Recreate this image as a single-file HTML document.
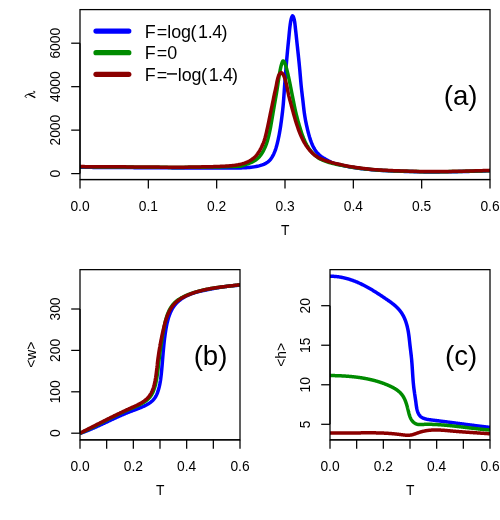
<!DOCTYPE html>
<html lang="en"><head><meta charset="utf-8"><title>plot</title>
<style>html,body{margin:0;padding:0;background:#fff;}svg{display:block;will-change:transform;}</style></head>
<body>
<svg width="500" height="520" viewBox="0 0 500 520" font-family="Liberation Sans, sans-serif" fill="#000">
<rect width="500" height="520" fill="#fff"/>
<defs><clipPath id="ca"><rect x="80" y="9.5" width="410" height="170"/></clipPath><clipPath id="cb"><rect x="80" y="269.5" width="160" height="170"/></clipPath><clipPath id="cc"><rect x="330" y="269.5" width="160" height="170"/></clipPath></defs>
<g clip-path="url(#ca)">
<path d="M80.00,167.30 L81.64,167.31 L83.29,167.32 L84.93,167.33 L86.57,167.34 L88.22,167.35 L89.86,167.36 L91.51,167.37 L93.15,167.38 L94.79,167.39 L96.44,167.40 L98.08,167.41 L99.72,167.42 L101.37,167.43 L103.01,167.44 L104.66,167.45 L106.30,167.46 L107.94,167.47 L109.59,167.48 L111.23,167.49 L112.87,167.50 L114.52,167.51 L116.16,167.52 L117.81,167.53 L119.45,167.54 L121.09,167.55 L122.74,167.56 L124.38,167.57 L126.02,167.58 L127.67,167.59 L129.31,167.60 L130.95,167.61 L132.60,167.62 L134.24,167.63 L135.89,167.64 L137.53,167.65 L139.17,167.66 L140.82,167.67 L142.46,167.68 L144.10,167.70 L145.75,167.71 L147.39,167.72 L149.04,167.73 L150.68,167.74 L152.32,167.75 L153.97,167.77 L155.61,167.78 L157.25,167.79 L158.90,167.80 L160.54,167.81 L162.19,167.82 L163.83,167.83 L165.47,167.84 L167.12,167.85 L168.76,167.86 L170.40,167.87 L172.05,167.88 L173.69,167.88 L175.34,167.89 L176.98,167.90 L178.62,167.90 L180.27,167.91 L181.91,167.91 L183.55,167.92 L185.20,167.92 L186.84,167.93 L188.48,167.94 L190.13,167.94 L191.77,167.95 L193.42,167.95 L195.06,167.96 L196.70,167.96 L198.35,167.97 L199.99,167.97 L201.63,167.97 L203.28,167.98 L204.92,167.98 L206.57,167.99 L208.21,167.99 L209.85,167.99 L211.50,167.99 L213.14,168.00 L214.78,168.00 L216.43,168.00 L218.07,168.00 L219.72,168.00 L221.36,168.00 L223.00,168.00 L224.65,167.99 L226.29,167.99 L227.94,167.98 L229.58,167.98 L231.22,167.97 L232.87,167.96 L234.51,167.95 L236.16,167.93 L237.80,167.92 L239.44,167.91 L241.08,167.88 L242.73,167.83 L244.37,167.76 L246.02,167.66 L247.66,167.54 L249.30,167.40 L250.94,167.25 L252.56,167.09 L254.19,166.87 L255.81,166.58 L257.42,166.22 L259.02,165.83 L260.61,165.40 L262.20,164.89 L263.75,164.31 L265.21,163.65 L266.64,162.82 L268.02,161.84 L269.28,160.75 L270.35,159.59 L271.32,158.31 L272.22,156.91 L273.04,155.43 L273.78,153.92 L274.43,152.42 L275.02,150.91 L275.57,149.36 L276.07,147.79 L276.53,146.20 L276.97,144.60 L277.38,143.00 L277.76,141.41 L278.13,139.81 L278.47,138.20 L278.80,136.59 L279.12,134.97 L279.42,133.35 L279.70,131.73 L279.98,130.11 L280.25,128.49 L280.50,126.87 L280.75,125.24 L280.98,123.62 L281.21,121.99 L281.43,120.36 L281.64,118.73 L281.85,117.10 L282.05,115.47 L282.25,113.83 L282.45,112.20 L282.63,110.57 L282.81,108.93 L282.98,107.30 L283.14,105.66 L283.29,104.03 L283.42,102.39 L283.55,100.75 L283.68,99.11 L283.80,97.47 L283.91,95.83 L284.02,94.19 L284.14,92.55 L284.25,90.91 L284.36,89.27 L284.48,87.63 L284.60,85.99 L284.72,84.35 L284.85,82.72 L284.97,81.08 L285.10,79.44 L285.23,77.80 L285.35,76.16 L285.48,74.52 L285.61,72.88 L285.74,71.24 L285.87,69.60 L286.00,67.97 L286.14,66.33 L286.28,64.69 L286.42,63.05 L286.56,61.42 L286.70,59.78 L286.85,58.14 L287.00,56.50 L287.15,54.87 L287.30,53.23 L287.45,51.59 L287.60,49.96 L287.76,48.32 L287.92,46.68 L288.09,45.05 L288.25,43.41 L288.42,41.78 L288.58,40.14 L288.75,38.51 L288.91,36.87 L289.06,35.23 L289.21,33.60 L289.37,31.96 L289.53,30.32 L289.70,28.69 L289.89,27.06 L290.10,25.42 L290.31,23.78 L290.56,22.14 L290.85,20.53 L291.21,18.95 L291.79,17.03 L292.50,15.73 L293.20,16.42 L293.89,18.30 L294.32,20.04 L294.61,21.63 L294.85,23.25 L295.05,24.89 L295.23,26.54 L295.40,28.20 L295.58,29.84 L295.77,31.47 L295.96,33.10 L296.13,34.74 L296.30,36.37 L296.47,38.01 L296.64,39.64 L296.81,41.28 L296.98,42.91 L297.16,44.55 L297.34,46.18 L297.52,47.81 L297.70,49.45 L297.87,51.08 L298.05,52.72 L298.23,54.35 L298.40,55.99 L298.57,57.62 L298.74,59.26 L298.90,60.89 L299.07,62.53 L299.23,64.16 L299.39,65.80 L299.55,67.43 L299.70,69.07 L299.85,70.71 L299.99,72.35 L300.13,73.98 L300.27,75.62 L300.41,77.26 L300.55,78.90 L300.69,80.53 L300.84,82.17 L300.99,83.81 L301.14,85.44 L301.31,87.08 L301.49,88.71 L301.67,90.35 L301.86,91.98 L302.05,93.61 L302.24,95.24 L302.44,96.88 L302.64,98.51 L302.83,100.14 L303.02,101.77 L303.20,103.41 L303.38,105.04 L303.56,106.68 L303.75,108.31 L303.94,109.94 L304.14,111.57 L304.37,113.20 L304.61,114.83 L304.87,116.45 L305.14,118.07 L305.42,119.69 L305.73,121.31 L306.06,122.92 L306.40,124.53 L306.75,126.13 L307.11,127.74 L307.48,129.34 L307.87,130.94 L308.27,132.53 L308.70,134.11 L309.15,135.70 L309.61,137.28 L310.11,138.85 L310.63,140.41 L311.19,141.95 L311.79,143.48 L312.44,145.00 L313.14,146.51 L313.90,147.98 L314.71,149.39 L315.61,150.74 L316.61,152.04 L317.71,153.30 L318.87,154.49 L320.08,155.59 L321.36,156.58 L322.72,157.51 L324.14,158.38 L325.57,159.21 L327.00,160.02 L328.44,160.83 L329.91,161.59 L331.41,162.27 L332.93,162.85 L334.48,163.36 L336.06,163.81 L337.65,164.23 L339.26,164.63 L340.86,165.01 L342.46,165.38 L344.07,165.74 L345.68,166.08 L347.29,166.40 L348.91,166.70 L350.52,166.99 L352.14,167.26 L353.77,167.52 L355.39,167.77 L357.02,168.00 L358.65,168.22 L360.28,168.44 L361.91,168.64 L363.54,168.83 L365.18,169.01 L366.81,169.19 L368.45,169.35 L370.08,169.51 L371.72,169.66 L373.36,169.80 L375.00,169.93 L376.64,170.06 L378.28,170.18 L379.92,170.29 L381.56,170.40 L383.20,170.50 L384.84,170.59 L386.48,170.69 L388.12,170.77 L389.76,170.85 L391.40,170.92 L393.05,170.99 L394.69,171.06 L396.33,171.12 L397.97,171.18 L399.62,171.24 L401.26,171.30 L402.90,171.35 L404.55,171.40 L406.19,171.45 L407.83,171.49 L409.48,171.54 L411.12,171.58 L412.76,171.62 L414.40,171.67 L416.05,171.71 L417.69,171.76 L419.33,171.80 L420.98,171.84 L422.62,171.87 L424.27,171.90 L425.91,171.92 L427.55,171.94 L429.20,171.95 L430.84,171.95 L432.48,171.95 L434.13,171.94 L435.77,171.93 L437.41,171.91 L439.06,171.89 L440.70,171.87 L442.35,171.85 L443.99,171.83 L445.63,171.81 L447.28,171.79 L448.92,171.76 L450.56,171.74 L452.21,171.72 L453.85,171.69 L455.49,171.66 L457.14,171.63 L458.78,171.60 L460.42,171.57 L462.07,171.53 L463.71,171.50 L465.35,171.46 L467.00,171.42 L468.64,171.38 L470.28,171.34 L471.93,171.30 L473.57,171.26 L475.21,171.22 L476.86,171.17 L478.50,171.12 L480.14,171.07 L481.79,171.02 L483.43,170.97 L485.07,170.92 L486.71,170.86 L488.36,170.81 L490.00,170.75" fill="none" stroke="#0000FF" stroke-width="3.5" stroke-linejoin="round" stroke-linecap="butt"/>
<path d="M80.00,166.80 L81.40,166.81 L82.81,166.82 L84.21,166.82 L85.62,166.83 L87.02,166.84 L88.43,166.85 L89.83,166.86 L91.23,166.87 L92.64,166.87 L94.04,166.88 L95.45,166.89 L96.85,166.90 L98.25,166.91 L99.66,166.92 L101.06,166.92 L102.47,166.93 L103.87,166.94 L105.28,166.95 L106.68,166.96 L108.08,166.97 L109.49,166.98 L110.89,166.98 L112.30,166.99 L113.70,167.00 L115.10,167.01 L116.51,167.02 L117.91,167.03 L119.32,167.03 L120.72,167.04 L122.13,167.05 L123.53,167.06 L124.93,167.07 L126.34,167.08 L127.74,167.09 L129.15,167.09 L130.55,167.10 L131.96,167.11 L133.36,167.12 L134.76,167.13 L136.17,167.14 L137.57,167.15 L138.98,167.16 L140.38,167.18 L141.78,167.19 L143.19,167.20 L144.59,167.21 L146.00,167.22 L147.40,167.23 L148.81,167.24 L150.21,167.26 L151.61,167.27 L153.02,167.28 L154.42,167.29 L155.83,167.30 L157.23,167.31 L158.63,167.32 L160.04,167.33 L161.44,167.34 L162.85,167.35 L164.25,167.36 L165.66,167.37 L167.06,167.37 L168.46,167.38 L169.87,167.38 L171.27,167.39 L172.68,167.39 L174.08,167.40 L175.49,167.40 L176.89,167.40 L178.29,167.40 L179.70,167.40 L181.10,167.39 L182.51,167.39 L183.91,167.38 L185.31,167.37 L186.72,167.35 L188.12,167.34 L189.53,167.33 L190.93,167.31 L192.34,167.29 L193.74,167.28 L195.14,167.26 L196.55,167.24 L197.95,167.22 L199.36,167.21 L200.76,167.19 L202.16,167.18 L203.57,167.16 L204.97,167.14 L206.38,167.12 L207.78,167.11 L209.18,167.09 L210.59,167.07 L211.99,167.05 L213.40,167.02 L214.80,167.00 L216.21,166.97 L217.61,166.95 L219.01,166.92 L220.42,166.89 L221.82,166.85 L223.22,166.81 L224.63,166.77 L226.03,166.72 L227.43,166.66 L228.84,166.61 L230.24,166.56 L231.64,166.51 L233.05,166.47 L234.46,166.44 L235.88,166.40 L237.28,166.37 L238.68,166.32 L240.06,166.25 L241.43,166.04 L242.78,165.66 L244.13,165.19 L245.46,164.68 L246.79,164.22 L248.12,163.75 L249.44,163.25 L250.75,162.72 L252.02,162.14 L253.25,161.50 L254.49,160.79 L255.69,160.02 L256.84,159.18 L257.89,158.29 L258.86,157.33 L259.77,156.28 L260.64,155.15 L261.45,153.97 L262.22,152.76 L262.93,151.55 L263.60,150.33 L264.23,149.09 L264.84,147.81 L265.41,146.51 L265.94,145.20 L266.43,143.88 L266.88,142.55 L267.30,141.23 L267.69,139.88 L268.05,138.53 L268.40,137.17 L268.73,135.80 L269.05,134.42 L269.35,133.04 L269.65,131.67 L269.94,130.29 L270.22,128.92 L270.49,127.54 L270.75,126.16 L271.00,124.78 L271.24,123.40 L271.48,122.01 L271.71,120.63 L271.95,119.24 L272.19,117.86 L272.43,116.47 L272.67,115.09 L272.91,113.71 L273.15,112.32 L273.38,110.94 L273.62,109.55 L273.86,108.17 L274.09,106.79 L274.33,105.40 L274.57,104.02 L274.81,102.63 L275.06,101.25 L275.30,99.87 L275.54,98.49 L275.79,97.10 L276.03,95.72 L276.27,94.34 L276.51,92.95 L276.74,91.57 L276.97,90.18 L277.19,88.80 L277.40,87.41 L277.61,86.02 L277.81,84.63 L278.01,83.24 L278.21,81.85 L278.42,80.46 L278.63,79.07 L278.85,77.68 L279.07,76.30 L279.32,74.92 L279.56,73.53 L279.80,72.14 L280.05,70.75 L280.32,69.36 L280.60,67.98 L280.92,66.61 L281.27,65.27 L281.68,63.88 L282.21,62.21 L282.84,60.93 L283.55,60.91 L284.42,62.24 L285.05,63.58 L285.52,64.89 L285.93,66.25 L286.30,67.62 L286.66,68.98 L287.02,70.34 L287.35,71.70 L287.68,73.07 L287.99,74.44 L288.29,75.81 L288.59,77.18 L288.89,78.56 L289.18,79.93 L289.48,81.30 L289.76,82.68 L290.04,84.05 L290.31,85.43 L290.58,86.81 L290.85,88.19 L291.12,89.57 L291.39,90.94 L291.66,92.32 L291.94,93.70 L292.21,95.07 L292.49,96.45 L292.77,97.83 L293.04,99.21 L293.32,100.58 L293.59,101.96 L293.87,103.34 L294.14,104.71 L294.41,106.09 L294.69,107.47 L294.98,108.84 L295.29,110.21 L295.61,111.58 L295.93,112.95 L296.26,114.31 L296.60,115.67 L296.95,117.03 L297.30,118.39 L297.66,119.75 L298.04,121.10 L298.42,122.46 L298.80,123.81 L299.20,125.15 L299.60,126.50 L300.00,127.84 L300.41,129.19 L300.82,130.54 L301.25,131.88 L301.69,133.21 L302.15,134.54 L302.63,135.85 L303.14,137.16 L303.66,138.47 L304.21,139.77 L304.78,141.06 L305.38,142.33 L306.01,143.58 L306.67,144.81 L307.37,146.02 L308.11,147.22 L308.90,148.41 L309.72,149.56 L310.57,150.68 L311.46,151.75 L312.38,152.79 L313.36,153.81 L314.39,154.80 L315.45,155.74 L316.55,156.62 L317.68,157.42 L318.84,158.17 L320.06,158.88 L321.32,159.54 L322.60,160.16 L323.89,160.72 L325.19,161.22 L326.51,161.68 L327.85,162.11 L329.20,162.51 L330.56,162.88 L331.93,163.23 L333.29,163.57 L334.65,163.88 L336.03,164.17 L337.41,164.45 L338.79,164.72 L340.17,164.99 L341.54,165.26 L342.92,165.54 L344.30,165.82 L345.67,166.10 L347.05,166.37 L348.43,166.63 L349.81,166.87 L351.20,167.09 L352.59,167.30 L353.98,167.51 L355.37,167.70 L356.76,167.89 L358.15,168.07 L359.55,168.24 L360.94,168.41 L362.33,168.58 L363.73,168.74 L365.12,168.90 L366.52,169.05 L367.92,169.20 L369.32,169.34 L370.71,169.47 L372.11,169.59 L373.51,169.71 L374.91,169.83 L376.31,169.94 L377.71,170.05 L379.11,170.14 L380.51,170.23 L381.91,170.31 L383.32,170.39 L384.72,170.47 L386.12,170.54 L387.52,170.61 L388.93,170.67 L390.33,170.73 L391.73,170.79 L393.14,170.85 L394.54,170.90 L395.94,170.95 L397.35,171.01 L398.75,171.06 L400.15,171.11 L401.56,171.15 L402.96,171.20 L404.36,171.24 L405.77,171.28 L407.17,171.32 L408.57,171.36 L409.98,171.40 L411.38,171.44 L412.79,171.47 L414.19,171.51 L415.59,171.55 L417.00,171.59 L418.40,171.62 L419.80,171.66 L421.21,171.69 L422.61,171.72 L424.02,171.75 L425.42,171.77 L426.82,171.78 L428.23,171.79 L429.63,171.80 L431.04,171.80 L432.44,171.80 L433.84,171.79 L435.25,171.78 L436.65,171.77 L438.06,171.75 L439.46,171.74 L440.87,171.72 L442.27,171.71 L443.67,171.69 L445.08,171.67 L446.48,171.65 L447.89,171.63 L449.29,171.61 L450.69,171.59 L452.10,171.57 L453.50,171.55 L454.91,171.52 L456.31,171.50 L457.71,171.47 L459.12,171.44 L460.52,171.42 L461.93,171.39 L463.33,171.36 L464.73,171.32 L466.14,171.29 L467.54,171.26 L468.95,171.23 L470.35,171.19 L471.75,171.16 L473.16,171.12 L474.56,171.08 L475.96,171.04 L477.37,171.01 L478.77,170.96 L480.18,170.92 L481.58,170.88 L482.98,170.83 L484.39,170.79 L485.79,170.74 L487.19,170.70 L488.60,170.65 L490.00,170.60" fill="none" stroke="#008B00" stroke-width="3.5" stroke-linejoin="round" stroke-linecap="butt"/>
<path d="M80.00,166.60 L81.34,166.61 L82.68,166.62 L84.02,166.62 L85.36,166.63 L86.70,166.64 L88.04,166.65 L89.38,166.66 L90.72,166.66 L92.06,166.67 L93.40,166.68 L94.74,166.69 L96.08,166.70 L97.42,166.70 L98.76,166.71 L100.10,166.72 L101.44,166.73 L102.78,166.74 L104.12,166.74 L105.46,166.75 L106.80,166.76 L108.14,166.77 L109.48,166.78 L110.82,166.78 L112.16,166.79 L113.50,166.80 L114.84,166.81 L116.18,166.82 L117.52,166.82 L118.86,166.83 L120.20,166.84 L121.54,166.85 L122.88,166.86 L124.22,166.86 L125.56,166.87 L126.90,166.88 L128.24,166.89 L129.58,166.90 L130.92,166.91 L132.26,166.91 L133.60,166.92 L134.94,166.93 L136.28,166.94 L137.62,166.95 L138.96,166.96 L140.30,166.97 L141.64,166.99 L142.98,167.00 L144.32,167.01 L145.66,167.02 L147.00,167.03 L148.34,167.04 L149.68,167.05 L151.02,167.06 L152.36,167.07 L153.70,167.08 L155.04,167.09 L156.38,167.11 L157.72,167.11 L159.06,167.12 L160.40,167.13 L161.74,167.14 L163.08,167.15 L164.42,167.16 L165.76,167.17 L167.10,167.17 L168.44,167.18 L169.78,167.18 L171.12,167.19 L172.46,167.19 L173.80,167.20 L175.14,167.20 L176.48,167.20 L177.82,167.20 L179.16,167.20 L180.50,167.19 L181.84,167.19 L183.18,167.17 L184.52,167.16 L185.86,167.14 L187.20,167.13 L188.54,167.11 L189.88,167.08 L191.22,167.06 L192.56,167.04 L193.90,167.01 L195.24,166.99 L196.58,166.96 L197.92,166.94 L199.26,166.91 L200.60,166.89 L201.94,166.87 L203.28,166.84 L204.62,166.81 L205.96,166.79 L207.30,166.76 L208.64,166.73 L209.98,166.70 L211.32,166.67 L212.66,166.63 L214.00,166.60 L215.34,166.56 L216.67,166.52 L218.01,166.47 L219.35,166.42 L220.69,166.37 L222.03,166.31 L223.37,166.24 L224.71,166.17 L226.05,166.08 L227.38,165.99 L228.72,165.89 L230.06,165.78 L231.39,165.66 L232.72,165.53 L234.05,165.38 L235.39,165.20 L236.72,165.00 L238.04,164.78 L239.35,164.53 L240.65,164.26 L241.96,163.92 L243.25,163.53 L244.53,163.10 L245.79,162.62 L247.02,162.11 L248.23,161.56 L249.43,160.95 L250.62,160.27 L251.78,159.54 L252.88,158.75 L253.91,157.93 L254.86,157.06 L255.77,156.11 L256.63,155.08 L257.46,153.99 L258.24,152.87 L258.98,151.72 L259.68,150.56 L260.33,149.41 L260.96,148.24 L261.56,147.04 L262.13,145.82 L262.68,144.58 L263.20,143.33 L263.68,142.07 L264.13,140.81 L264.54,139.55 L264.93,138.27 L265.28,136.99 L265.62,135.69 L265.94,134.39 L266.25,133.08 L266.55,131.77 L266.84,130.45 L267.13,129.14 L267.42,127.83 L267.71,126.52 L268.00,125.21 L268.28,123.90 L268.55,122.59 L268.82,121.28 L269.09,119.96 L269.35,118.65 L269.62,117.34 L269.88,116.02 L270.15,114.71 L270.42,113.40 L270.69,112.08 L270.97,110.77 L271.24,109.46 L271.52,108.15 L271.79,106.84 L272.07,105.53 L272.34,104.22 L272.61,102.90 L272.88,101.59 L273.15,100.28 L273.40,98.96 L273.66,97.65 L273.92,96.33 L274.20,95.02 L274.48,93.71 L274.78,92.40 L275.08,91.10 L275.38,89.79 L275.68,88.49 L275.96,87.18 L276.23,85.86 L276.47,84.54 L276.71,83.22 L276.95,81.90 L277.22,80.58 L277.53,79.29 L277.87,77.98 L278.27,76.65 L278.74,75.38 L279.33,74.25 L280.25,73.08 L281.30,72.63 L282.38,73.49 L283.21,74.61 L283.82,75.77 L284.34,77.04 L284.79,78.34 L285.19,79.62 L285.56,80.90 L285.90,82.19 L286.22,83.50 L286.52,84.81 L286.81,86.12 L287.09,87.43 L287.37,88.75 L287.62,90.06 L287.87,91.38 L288.12,92.70 L288.39,94.01 L288.67,95.32 L288.98,96.62 L289.31,97.92 L289.65,99.22 L290.00,100.51 L290.35,101.80 L290.69,103.10 L291.04,104.40 L291.38,105.69 L291.72,106.99 L292.06,108.28 L292.41,109.58 L292.76,110.87 L293.11,112.16 L293.47,113.46 L293.83,114.75 L294.19,116.03 L294.56,117.32 L294.93,118.61 L295.31,119.90 L295.70,121.18 L296.09,122.46 L296.49,123.74 L296.90,125.01 L297.33,126.28 L297.76,127.55 L298.21,128.82 L298.66,130.09 L299.13,131.34 L299.61,132.59 L300.11,133.84 L300.63,135.07 L301.16,136.29 L301.72,137.52 L302.30,138.73 L302.90,139.94 L303.52,141.13 L304.16,142.31 L304.83,143.46 L305.52,144.60 L306.25,145.72 L307.02,146.84 L307.81,147.93 L308.64,148.99 L309.49,150.02 L310.37,151.01 L311.29,151.99 L312.25,152.95 L313.24,153.88 L314.26,154.77 L315.31,155.59 L316.39,156.34 L317.51,157.04 L318.68,157.69 L319.88,158.31 L321.11,158.89 L322.35,159.43 L323.59,159.94 L324.84,160.41 L326.10,160.85 L327.37,161.27 L328.66,161.67 L329.95,162.05 L331.24,162.41 L332.53,162.76 L333.83,163.09 L335.13,163.41 L336.44,163.71 L337.75,164.00 L339.06,164.28 L340.37,164.56 L341.68,164.84 L342.99,165.12 L344.30,165.40 L345.62,165.67 L346.93,165.93 L348.25,166.18 L349.56,166.42 L350.88,166.65 L352.21,166.87 L353.53,167.08 L354.85,167.28 L356.18,167.47 L357.51,167.66 L358.84,167.84 L360.16,168.02 L361.49,168.20 L362.82,168.37 L364.15,168.54 L365.48,168.71 L366.81,168.86 L368.14,169.01 L369.48,169.15 L370.81,169.28 L372.14,169.40 L373.48,169.52 L374.81,169.63 L376.15,169.73 L377.49,169.83 L378.82,169.92 L380.16,170.01 L381.50,170.09 L382.84,170.17 L384.17,170.24 L385.51,170.31 L386.85,170.37 L388.19,170.44 L389.53,170.50 L390.87,170.55 L392.21,170.61 L393.55,170.66 L394.88,170.71 L396.22,170.76 L397.56,170.81 L398.90,170.86 L400.24,170.91 L401.58,170.95 L402.92,171.00 L404.26,171.04 L405.60,171.08 L406.94,171.12 L408.28,171.16 L409.62,171.19 L410.96,171.22 L412.30,171.26 L413.64,171.30 L414.98,171.33 L416.32,171.37 L417.66,171.40 L418.99,171.44 L420.33,171.47 L421.67,171.50 L423.01,171.53 L424.35,171.55 L425.69,171.57 L427.03,171.59 L428.37,171.60 L429.71,171.60 L431.05,171.60 L432.39,171.60 L433.73,171.59 L435.07,171.58 L436.41,171.57 L437.75,171.56 L439.09,171.54 L440.43,171.53 L441.77,171.51 L443.11,171.49 L444.45,171.48 L445.79,171.46 L447.13,171.44 L448.47,171.42 L449.81,171.40 L451.15,171.38 L452.49,171.36 L453.83,171.34 L455.17,171.32 L456.51,171.30 L457.85,171.27 L459.19,171.24 L460.53,171.22 L461.87,171.19 L463.21,171.16 L464.55,171.13 L465.89,171.10 L467.23,171.07 L468.57,171.03 L469.91,171.00 L471.25,170.97 L472.59,170.94 L473.93,170.90 L475.27,170.86 L476.61,170.83 L477.95,170.79 L479.29,170.75 L480.62,170.71 L481.96,170.67 L483.30,170.62 L484.64,170.58 L485.98,170.54 L487.32,170.49 L488.66,170.45 L490.00,170.40" fill="none" stroke="#8B0000" stroke-width="3.5" stroke-linejoin="round" stroke-linecap="butt"/>
</g>
<g clip-path="url(#cb)">
<path d="M79.96,433.46 L80.44,433.29 L80.92,433.12 L81.40,432.95 L81.88,432.77 L82.35,432.60 L82.83,432.42 L83.30,432.24 L83.78,432.06 L84.25,431.88 L84.72,431.70 L85.19,431.52 L85.66,431.33 L86.13,431.15 L86.60,430.96 L87.07,430.77 L87.54,430.59 L88.00,430.40 L88.47,430.21 L88.93,430.02 L89.39,429.82 L89.86,429.63 L90.32,429.44 L90.78,429.24 L91.24,429.05 L91.70,428.85 L92.16,428.65 L92.62,428.45 L93.07,428.25 L93.53,428.05 L93.99,427.85 L94.44,427.65 L94.90,427.45 L95.35,427.25 L95.81,427.05 L96.26,426.84 L96.72,426.64 L97.17,426.43 L97.62,426.23 L98.07,426.02 L98.52,425.82 L98.98,425.61 L99.43,425.40 L99.88,425.19 L100.33,424.99 L100.78,424.78 L101.23,424.57 L101.68,424.36 L102.13,424.15 L102.58,423.94 L103.02,423.73 L103.47,423.52 L103.92,423.31 L104.37,423.10 L104.82,422.89 L105.27,422.68 L105.72,422.47 L106.16,422.26 L106.61,422.05 L107.06,421.84 L107.51,421.62 L107.96,421.41 L108.40,421.20 L108.85,420.99 L109.30,420.78 L109.75,420.57 L110.20,420.36 L110.65,420.15 L111.10,419.94 L111.55,419.73 L112.00,419.52 L112.44,419.31 L112.89,419.10 L113.34,418.89 L113.80,418.68 L114.25,418.47 L114.70,418.26 L115.15,418.06 L115.60,417.85 L116.05,417.64 L116.51,417.43 L116.96,417.23 L117.41,417.02 L117.87,416.82 L118.32,416.61 L118.77,416.41 L119.23,416.21 L119.69,416.00 L120.14,415.80 L120.60,415.60 L121.06,415.40 L121.52,415.20 L121.98,415.00 L122.44,414.80 L122.90,414.60 L123.36,414.40 L123.82,414.21 L124.28,414.01 L124.75,413.82 L125.21,413.62 L125.67,413.43 L126.14,413.24 L126.61,413.05 L127.07,412.86 L127.54,412.67 L128.01,412.48 L128.48,412.29 L128.95,412.11 L129.43,411.92 L129.90,411.74 L130.37,411.56 L130.85,411.38 L131.32,411.20 L131.80,411.02 L132.28,410.84 L132.76,410.66 L133.23,410.48 L133.71,410.30 L134.19,410.12 L134.67,409.94 L135.15,409.76 L135.63,409.58 L136.10,409.40 L136.58,409.22 L137.06,409.04 L137.53,408.86 L138.01,408.67 L138.48,408.49 L138.96,408.30 L139.43,408.11 L139.90,407.92 L140.37,407.72 L140.84,407.53 L141.30,407.33 L141.77,407.13 L142.23,406.93 L142.69,406.72 L143.15,406.51 L143.61,406.30 L144.06,406.09 L144.52,405.87 L144.97,405.64 L145.41,405.42 L145.86,405.19 L146.30,404.95 L146.74,404.72 L147.17,404.47 L147.60,404.23 L148.03,403.97 L148.45,403.72 L148.87,403.45 L149.28,403.18 L149.69,402.91 L150.09,402.63 L150.48,402.34 L150.87,402.05 L151.24,401.75 L151.61,401.44 L151.98,401.13 L152.33,400.81 L152.67,400.48 L153.01,400.14 L153.33,399.79 L153.65,399.44 L153.95,399.08 L154.25,398.71 L154.53,398.33 L154.80,397.95 L155.07,397.55 L155.32,397.15 L155.57,396.75 L155.81,396.33 L156.04,395.91 L156.26,395.49 L156.47,395.06 L156.67,394.62 L156.87,394.18 L157.06,393.73 L157.25,393.28 L157.43,392.83 L157.60,392.37 L157.77,391.90 L157.93,391.44 L158.08,390.97 L158.23,390.50 L158.38,390.02 L158.52,389.55 L158.66,389.07 L158.79,388.59 L158.92,388.10 L159.04,387.62 L159.17,387.13 L159.28,386.64 L159.40,386.15 L159.51,385.66 L159.61,385.17 L159.72,384.67 L159.82,384.18 L159.91,383.68 L160.01,383.18 L160.10,382.68 L160.18,382.18 L160.27,381.68 L160.35,381.18 L160.43,380.67 L160.51,380.17 L160.58,379.66 L160.66,379.16 L160.73,378.65 L160.79,378.14 L160.86,377.64 L160.92,377.13 L160.99,376.62 L161.05,376.11 L161.10,375.61 L161.16,375.10 L161.22,374.59 L161.27,374.08 L161.33,373.57 L161.38,373.07 L161.43,372.56 L161.48,372.05 L161.53,371.55 L161.58,371.04 L161.63,370.53 L161.67,370.03 L161.72,369.53 L161.77,369.02 L161.81,368.52 L161.86,368.02 L161.90,367.52 L161.95,367.02 L161.99,366.51 L162.03,366.01 L162.08,365.52 L162.12,365.02 L162.16,364.52 L162.20,364.02 L162.25,363.52 L162.29,363.03 L162.33,362.53 L162.37,362.03 L162.41,361.54 L162.45,361.04 L162.49,360.54 L162.53,360.05 L162.57,359.56 L162.61,359.06 L162.65,358.57 L162.69,358.07 L162.73,357.58 L162.77,357.09 L162.81,356.59 L162.85,356.10 L162.89,355.61 L162.94,355.12 L162.98,354.63 L163.02,354.13 L163.06,353.64 L163.10,353.15 L163.14,352.66 L163.18,352.17 L163.23,351.68 L163.27,351.19 L163.31,350.69 L163.36,350.20 L163.40,349.71 L163.45,349.22 L163.49,348.73 L163.54,348.24 L163.58,347.75 L163.63,347.26 L163.68,346.77 L163.72,346.28 L163.77,345.79 L163.82,345.30 L163.87,344.81 L163.92,344.31 L163.97,343.82 L164.02,343.33 L164.08,342.84 L164.13,342.35 L164.18,341.86 L164.24,341.36 L164.29,340.87 L164.35,340.38 L164.41,339.89 L164.47,339.39 L164.53,338.90 L164.59,338.41 L164.65,337.91 L164.71,337.42 L164.78,336.93 L164.84,336.43 L164.91,335.94 L164.97,335.44 L165.04,334.95 L165.11,334.45 L165.18,333.95 L165.25,333.46 L165.33,332.96 L165.40,332.46 L165.48,331.96 L165.56,331.47 L165.63,330.97 L165.71,330.47 L165.80,329.97 L165.88,329.47 L165.96,328.97 L166.05,328.46 L166.14,327.96 L166.23,327.46 L166.32,326.96 L166.41,326.46 L166.51,325.96 L166.61,325.46 L166.71,324.96 L166.81,324.46 L166.92,323.96 L167.02,323.46 L167.14,322.96 L167.25,322.47 L167.37,321.97 L167.49,321.47 L167.61,320.98 L167.74,320.49 L167.87,320.00 L168.00,319.51 L168.14,319.02 L168.28,318.54 L168.42,318.05 L168.57,317.57 L168.72,317.09 L168.88,316.61 L169.04,316.14 L169.20,315.66 L169.37,315.19 L169.54,314.72 L169.72,314.26 L169.90,313.79 L170.09,313.33 L170.28,312.88 L170.48,312.42 L170.68,311.97 L170.89,311.52 L171.10,311.08 L171.32,310.64 L171.54,310.20 L171.77,309.76 L172.00,309.33 L172.24,308.91 L172.49,308.48 L172.74,308.06 L173.00,307.65 L173.26,307.24 L173.53,306.83 L173.81,306.43 L174.09,306.03 L174.38,305.64 L174.68,305.25 L174.98,304.87 L175.29,304.49 L175.61,304.12 L175.93,303.75 L176.26,303.39 L176.60,303.03 L176.94,302.68 L177.29,302.33 L177.65,301.99 L178.01,301.65 L178.38,301.32 L178.76,300.99 L179.14,300.67 L179.53,300.35 L179.92,300.04 L180.32,299.74 L180.72,299.44 L181.13,299.14 L181.54,298.85 L181.96,298.57 L182.38,298.29 L182.80,298.01 L183.23,297.74 L183.66,297.48 L184.10,297.22 L184.54,296.97 L184.98,296.72 L185.43,296.47 L185.88,296.24 L186.33,296.00 L186.78,295.78 L187.24,295.55 L187.70,295.34 L188.16,295.13 L188.62,294.92 L189.09,294.72 L189.55,294.52 L190.02,294.33 L190.49,294.14 L190.96,293.96 L191.43,293.79 L191.90,293.62 L192.37,293.45 L192.85,293.29 L193.32,293.13 L193.80,292.98 L194.27,292.83 L194.75,292.68 L195.23,292.54 L195.71,292.40 L196.19,292.27 L196.67,292.13 L197.15,292.00 L197.63,291.88 L198.12,291.75 L198.60,291.63 L199.08,291.52 L199.57,291.40 L200.05,291.29 L200.54,291.17 L201.02,291.06 L201.51,290.95 L202.00,290.85 L202.48,290.74 L202.97,290.64 L203.46,290.53 L203.95,290.43 L204.43,290.33 L204.92,290.23 L205.41,290.13 L205.90,290.03 L206.39,289.92 L206.88,289.82 L207.36,289.73 L207.85,289.63 L208.34,289.53 L208.83,289.43 L209.32,289.33 L209.81,289.24 L210.30,289.14 L210.79,289.04 L211.28,288.95 L211.77,288.85 L212.26,288.76 L212.75,288.67 L213.24,288.57 L213.73,288.48 L214.22,288.39 L214.71,288.30 L215.21,288.21 L215.70,288.12 L216.19,288.04 L216.68,287.95 L217.17,287.86 L217.66,287.78 L218.16,287.69 L218.65,287.61 L219.14,287.53 L219.63,287.45 L220.13,287.37 L220.62,287.29 L221.11,287.21 L221.61,287.13 L222.10,287.05 L222.60,286.98 L223.09,286.91 L223.58,286.83 L224.08,286.76 L224.57,286.69 L225.07,286.62 L225.56,286.55 L226.06,286.49 L226.55,286.42 L227.05,286.36 L227.54,286.29 L228.04,286.23 L228.54,286.17 L229.03,286.11 L229.53,286.06 L230.03,286.00 L230.52,285.95 L231.02,285.89 L231.52,285.84 L232.01,285.79 L232.51,285.74 L233.01,285.70 L233.51,285.65 L234.01,285.61 L234.50,285.56 L235.00,285.52 L235.50,285.49 L236.00,285.45 L236.50,285.41 L237.00,285.38 L237.50,285.35 L238.00,285.32 L238.50,285.29 L239.00,285.26 L239.50,285.24 L240.00,285.21" fill="none" stroke="#0000FF" stroke-width="3.5" stroke-linejoin="round" stroke-linecap="butt"/>
<path d="M79.97,433.31 L80.43,433.10 L80.89,432.89 L81.35,432.67 L81.81,432.46 L82.27,432.25 L82.73,432.03 L83.19,431.82 L83.64,431.61 L84.10,431.39 L84.55,431.18 L85.00,430.96 L85.46,430.74 L85.91,430.53 L86.36,430.31 L86.81,430.09 L87.26,429.88 L87.71,429.66 L88.15,429.44 L88.60,429.22 L89.05,429.01 L89.49,428.79 L89.94,428.57 L90.38,428.35 L90.83,428.13 L91.27,427.91 L91.71,427.69 L92.16,427.47 L92.60,427.25 L93.04,427.03 L93.48,426.81 L93.92,426.59 L94.36,426.37 L94.80,426.14 L95.24,425.92 L95.68,425.70 L96.12,425.48 L96.56,425.26 L96.99,425.04 L97.43,424.81 L97.87,424.59 L98.31,424.37 L98.74,424.15 L99.18,423.92 L99.62,423.70 L100.05,423.48 L100.49,423.26 L100.92,423.04 L101.36,422.81 L101.79,422.59 L102.23,422.37 L102.67,422.15 L103.10,421.92 L103.54,421.70 L103.97,421.48 L104.41,421.26 L104.84,421.03 L105.28,420.81 L105.71,420.59 L106.15,420.37 L106.58,420.15 L107.02,419.93 L107.46,419.70 L107.89,419.48 L108.33,419.26 L108.76,419.04 L109.20,418.82 L109.64,418.60 L110.07,418.38 L110.51,418.16 L110.95,417.94 L111.39,417.72 L111.82,417.50 L112.26,417.28 L112.70,417.06 L113.14,416.84 L113.58,416.62 L114.02,416.41 L114.46,416.19 L114.90,415.97 L115.34,415.75 L115.78,415.54 L116.23,415.32 L116.67,415.10 L117.11,414.89 L117.56,414.67 L118.00,414.46 L118.45,414.24 L118.89,414.03 L119.34,413.81 L119.79,413.60 L120.23,413.39 L120.68,413.17 L121.13,412.96 L121.58,412.75 L122.03,412.54 L122.48,412.33 L122.94,412.12 L123.39,411.91 L123.84,411.70 L124.30,411.49 L124.75,411.28 L125.21,411.07 L125.67,410.87 L126.12,410.66 L126.58,410.46 L127.04,410.25 L127.50,410.04 L127.97,409.84 L128.43,409.64 L128.89,409.43 L129.36,409.23 L129.83,409.03 L130.29,408.83 L130.76,408.63 L131.23,408.43 L131.70,408.23 L132.17,408.03 L132.64,407.83 L133.11,407.63 L133.58,407.43 L134.05,407.23 L134.52,407.03 L134.99,406.82 L135.46,406.62 L135.92,406.41 L136.39,406.21 L136.85,406.00 L137.31,405.79 L137.77,405.58 L138.23,405.36 L138.69,405.14 L139.14,404.93 L139.59,404.70 L140.03,404.48 L140.48,404.25 L140.92,404.02 L141.35,403.79 L141.79,403.55 L142.22,403.31 L142.64,403.06 L143.06,402.81 L143.47,402.56 L143.89,402.30 L144.29,402.04 L144.69,401.77 L145.09,401.50 L145.48,401.22 L145.86,400.94 L146.24,400.65 L146.61,400.36 L146.97,400.06 L147.33,399.75 L147.68,399.44 L148.02,399.13 L148.36,398.80 L148.69,398.47 L149.01,398.13 L149.33,397.79 L149.63,397.44 L149.93,397.08 L150.22,396.71 L150.50,396.34 L150.77,395.96 L151.04,395.57 L151.29,395.18 L151.54,394.77 L151.78,394.37 L152.01,393.95 L152.24,393.53 L152.46,393.10 L152.67,392.67 L152.87,392.23 L153.07,391.79 L153.26,391.34 L153.45,390.89 L153.63,390.44 L153.80,389.98 L153.97,389.51 L154.13,389.05 L154.29,388.58 L154.44,388.10 L154.59,387.62 L154.73,387.15 L154.87,386.66 L155.01,386.18 L155.14,385.70 L155.27,385.21 L155.39,384.72 L155.51,384.23 L155.63,383.74 L155.74,383.25 L155.85,382.76 L155.96,382.26 L156.06,381.77 L156.17,381.28 L156.27,380.78 L156.36,380.29 L156.46,379.79 L156.55,379.29 L156.64,378.80 L156.73,378.30 L156.81,377.80 L156.89,377.30 L156.97,376.80 L157.05,376.30 L157.13,375.81 L157.21,375.31 L157.28,374.81 L157.35,374.31 L157.42,373.81 L157.49,373.31 L157.56,372.81 L157.62,372.31 L157.69,371.81 L157.75,371.31 L157.81,370.81 L157.87,370.31 L157.93,369.81 L157.99,369.31 L158.05,368.81 L158.11,368.31 L158.17,367.81 L158.22,367.31 L158.28,366.81 L158.34,366.32 L158.39,365.82 L158.45,365.32 L158.50,364.83 L158.56,364.33 L158.62,363.84 L158.67,363.34 L158.73,362.85 L158.78,362.36 L158.84,361.87 L158.90,361.37 L158.95,360.88 L159.01,360.39 L159.07,359.91 L159.12,359.42 L159.18,358.93 L159.24,358.44 L159.30,357.96 L159.36,357.47 L159.42,356.98 L159.48,356.50 L159.54,356.01 L159.60,355.53 L159.66,355.05 L159.72,354.56 L159.79,354.08 L159.85,353.60 L159.91,353.11 L159.97,352.63 L160.04,352.15 L160.10,351.67 L160.17,351.19 L160.23,350.70 L160.30,350.22 L160.36,349.74 L160.43,349.26 L160.50,348.78 L160.57,348.30 L160.63,347.82 L160.70,347.34 L160.77,346.86 L160.84,346.38 L160.91,345.90 L160.98,345.41 L161.05,344.93 L161.13,344.45 L161.20,343.97 L161.27,343.49 L161.34,343.01 L161.42,342.53 L161.49,342.04 L161.57,341.56 L161.64,341.08 L161.72,340.60 L161.80,340.11 L161.88,339.63 L161.95,339.15 L162.03,338.66 L162.11,338.18 L162.19,337.69 L162.28,337.21 L162.36,336.72 L162.44,336.23 L162.52,335.74 L162.61,335.26 L162.69,334.77 L162.78,334.28 L162.86,333.79 L162.95,333.30 L163.04,332.81 L163.13,332.32 L163.21,331.82 L163.30,331.33 L163.39,330.83 L163.49,330.34 L163.58,329.84 L163.67,329.35 L163.77,328.85 L163.86,328.35 L163.96,327.85 L164.05,327.35 L164.15,326.86 L164.25,326.36 L164.35,325.86 L164.46,325.36 L164.56,324.86 L164.67,324.36 L164.78,323.86 L164.89,323.37 L165.00,322.87 L165.12,322.37 L165.24,321.88 L165.36,321.39 L165.48,320.89 L165.61,320.40 L165.74,319.91 L165.87,319.42 L166.01,318.94 L166.15,318.45 L166.29,317.97 L166.44,317.49 L166.58,317.01 L166.74,316.53 L166.89,316.06 L167.05,315.58 L167.22,315.12 L167.39,314.65 L167.56,314.18 L167.74,313.72 L167.92,313.27 L168.11,312.81 L168.30,312.36 L168.49,311.91 L168.69,311.47 L168.90,311.02 L169.11,310.59 L169.33,310.15 L169.55,309.72 L169.77,309.30 L170.01,308.88 L170.24,308.46 L170.49,308.05 L170.74,307.64 L170.99,307.24 L171.25,306.84 L171.52,306.44 L171.80,306.06 L172.08,305.67 L172.36,305.29 L172.66,304.92 L172.96,304.55 L173.26,304.19 L173.58,303.83 L173.90,303.48 L174.23,303.14 L174.56,302.80 L174.90,302.47 L175.25,302.14 L175.61,301.82 L175.98,301.51 L176.35,301.20 L176.72,300.90 L177.10,300.60 L177.49,300.30 L177.89,300.02 L178.29,299.74 L178.69,299.46 L179.10,299.19 L179.51,298.92 L179.93,298.66 L180.36,298.40 L180.79,298.15 L181.22,297.90 L181.66,297.66 L182.10,297.42 L182.54,297.19 L182.99,296.96 L183.44,296.73 L183.89,296.51 L184.35,296.29 L184.81,296.08 L185.27,295.87 L185.73,295.66 L186.20,295.46 L186.66,295.26 L187.13,295.07 L187.60,294.88 L188.07,294.69 L188.55,294.50 L189.02,294.32 L189.49,294.14 L189.97,293.96 L190.44,293.79 L190.92,293.62 L191.39,293.45 L191.87,293.28 L192.34,293.12 L192.82,292.96 L193.30,292.80 L193.77,292.65 L194.25,292.50 L194.73,292.35 L195.20,292.20 L195.68,292.05 L196.16,291.91 L196.64,291.77 L197.11,291.63 L197.59,291.50 L198.07,291.36 L198.55,291.23 L199.03,291.10 L199.51,290.98 L199.99,290.85 L200.47,290.73 L200.95,290.61 L201.43,290.49 L201.91,290.38 L202.39,290.26 L202.87,290.15 L203.35,290.04 L203.83,289.93 L204.31,289.83 L204.79,289.72 L205.27,289.62 L205.75,289.52 L206.24,289.42 L206.72,289.32 L207.20,289.22 L207.68,289.13 L208.17,289.04 L208.65,288.94 L209.13,288.86 L209.62,288.77 L210.10,288.68 L210.59,288.59 L211.07,288.51 L211.56,288.43 L212.04,288.35 L212.52,288.27 L213.01,288.19 L213.50,288.11 L213.98,288.03 L214.47,287.96 L214.95,287.88 L215.44,287.81 L215.93,287.74 L216.41,287.67 L216.90,287.60 L217.39,287.53 L217.87,287.46 L218.36,287.40 L218.85,287.33 L219.34,287.26 L219.82,287.20 L220.31,287.14 L220.80,287.07 L221.29,287.01 L221.78,286.95 L222.27,286.89 L222.76,286.83 L223.25,286.77 L223.74,286.71 L224.23,286.65 L224.72,286.59 L225.21,286.53 L225.70,286.47 L226.19,286.42 L226.68,286.36 L227.17,286.30 L227.66,286.25 L228.15,286.19 L228.64,286.14 L229.14,286.08 L229.63,286.02 L230.12,285.97 L230.61,285.91 L231.10,285.86 L231.60,285.80 L232.09,285.75 L232.58,285.69 L233.08,285.64 L233.57,285.58 L234.06,285.52 L234.56,285.47 L235.05,285.41 L235.55,285.36 L236.04,285.30 L236.54,285.24 L237.03,285.18 L237.53,285.13 L238.02,285.07 L238.52,285.01 L239.01,284.95 L239.51,284.89 L240.00,284.83" fill="none" stroke="#008B00" stroke-width="3.5" stroke-linejoin="round" stroke-linecap="butt"/>
<path d="M80.00,433.14 L80.45,432.91 L80.89,432.69 L81.34,432.46 L81.79,432.24 L82.23,432.01 L82.68,431.79 L83.12,431.56 L83.56,431.34 L84.01,431.11 L84.45,430.89 L84.89,430.66 L85.34,430.44 L85.78,430.21 L86.22,429.99 L86.66,429.76 L87.10,429.54 L87.54,429.32 L87.98,429.09 L88.42,428.87 L88.86,428.64 L89.30,428.42 L89.74,428.20 L90.18,427.97 L90.61,427.75 L91.05,427.53 L91.49,427.30 L91.93,427.08 L92.36,426.86 L92.80,426.63 L93.24,426.41 L93.67,426.19 L94.11,425.97 L94.55,425.74 L94.98,425.52 L95.42,425.30 L95.85,425.08 L96.29,424.86 L96.73,424.63 L97.16,424.41 L97.60,424.19 L98.03,423.97 L98.47,423.75 L98.90,423.53 L99.34,423.31 L99.77,423.08 L100.21,422.86 L100.64,422.64 L101.08,422.42 L101.51,422.20 L101.95,421.98 L102.38,421.76 L102.82,421.54 L103.25,421.32 L103.69,421.10 L104.12,420.88 L104.56,420.66 L104.99,420.44 L105.43,420.23 L105.86,420.01 L106.30,419.79 L106.73,419.57 L107.17,419.35 L107.60,419.13 L108.04,418.91 L108.48,418.70 L108.91,418.48 L109.35,418.26 L109.79,418.04 L110.22,417.83 L110.66,417.61 L111.10,417.39 L111.54,417.18 L111.98,416.96 L112.41,416.74 L112.85,416.53 L113.29,416.31 L113.73,416.09 L114.17,415.88 L114.61,415.66 L115.05,415.45 L115.49,415.23 L115.93,415.02 L116.37,414.80 L116.82,414.59 L117.26,414.37 L117.70,414.16 L118.14,413.95 L118.59,413.73 L119.03,413.52 L119.48,413.31 L119.92,413.09 L120.37,412.88 L120.81,412.67 L121.26,412.45 L121.70,412.24 L122.15,412.03 L122.60,411.82 L123.05,411.61 L123.50,411.39 L123.95,411.18 L124.40,410.97 L124.85,410.76 L125.30,410.55 L125.75,410.34 L126.20,410.13 L126.66,409.92 L127.11,409.71 L127.56,409.50 L128.02,409.29 L128.47,409.08 L128.93,408.87 L129.39,408.67 L129.85,408.46 L130.30,408.25 L130.76,408.04 L131.22,407.83 L131.68,407.63 L132.14,407.42 L132.60,407.21 L133.06,407.00 L133.52,406.79 L133.98,406.58 L134.44,406.37 L134.89,406.15 L135.35,405.94 L135.80,405.72 L136.26,405.51 L136.71,405.29 L137.16,405.07 L137.60,404.84 L138.05,404.62 L138.49,404.39 L138.93,404.16 L139.36,403.92 L139.80,403.69 L140.22,403.45 L140.65,403.20 L141.07,402.96 L141.49,402.71 L141.90,402.45 L142.31,402.20 L142.72,401.94 L143.12,401.67 L143.52,401.40 L143.91,401.13 L144.29,400.85 L144.67,400.56 L145.05,400.27 L145.42,399.98 L145.78,399.68 L146.14,399.38 L146.49,399.07 L146.83,398.75 L147.17,398.43 L147.50,398.10 L147.82,397.77 L148.13,397.43 L148.44,397.08 L148.74,396.73 L149.03,396.37 L149.32,396.00 L149.59,395.63 L149.86,395.24 L150.12,394.86 L150.37,394.46 L150.61,394.06 L150.85,393.65 L151.08,393.24 L151.30,392.82 L151.51,392.39 L151.72,391.96 L151.92,391.53 L152.11,391.09 L152.30,390.64 L152.48,390.19 L152.66,389.74 L152.83,389.28 L152.99,388.82 L153.15,388.35 L153.31,387.89 L153.46,387.42 L153.60,386.94 L153.74,386.47 L153.87,385.99 L154.00,385.51 L154.13,385.03 L154.25,384.54 L154.37,384.06 L154.49,383.57 L154.60,383.09 L154.71,382.60 L154.81,382.11 L154.92,381.62 L155.02,381.13 L155.11,380.63 L155.21,380.14 L155.30,379.65 L155.39,379.15 L155.47,378.66 L155.56,378.16 L155.64,377.67 L155.71,377.17 L155.79,376.67 L155.87,376.17 L155.94,375.68 L156.01,375.18 L156.08,374.68 L156.15,374.18 L156.21,373.68 L156.28,373.18 L156.34,372.68 L156.40,372.18 L156.46,371.68 L156.52,371.18 L156.58,370.68 L156.64,370.18 L156.70,369.68 L156.75,369.18 L156.81,368.68 L156.86,368.18 L156.92,367.69 L156.97,367.19 L157.03,366.69 L157.08,366.19 L157.14,365.70 L157.19,365.20 L157.25,364.71 L157.30,364.21 L157.36,363.72 L157.42,363.22 L157.47,362.73 L157.53,362.24 L157.59,361.75 L157.65,361.26 L157.71,360.77 L157.77,360.28 L157.83,359.80 L157.90,359.31 L157.96,358.82 L158.02,358.34 L158.09,357.85 L158.16,357.37 L158.22,356.89 L158.29,356.40 L158.36,355.92 L158.43,355.44 L158.50,354.96 L158.57,354.48 L158.64,354.00 L158.71,353.52 L158.78,353.04 L158.85,352.56 L158.93,352.08 L159.00,351.60 L159.08,351.13 L159.16,350.65 L159.23,350.17 L159.31,349.69 L159.39,349.22 L159.47,348.74 L159.55,348.27 L159.63,347.79 L159.71,347.31 L159.80,346.84 L159.88,346.36 L159.97,345.89 L160.05,345.41 L160.14,344.94 L160.22,344.46 L160.31,343.99 L160.40,343.51 L160.49,343.03 L160.58,342.56 L160.67,342.08 L160.76,341.61 L160.85,341.13 L160.95,340.65 L161.04,340.18 L161.14,339.70 L161.23,339.23 L161.33,338.75 L161.43,338.27 L161.52,337.79 L161.62,337.31 L161.72,336.84 L161.82,336.36 L161.92,335.88 L162.03,335.40 L162.13,334.92 L162.23,334.44 L162.34,333.96 L162.44,333.48 L162.55,332.99 L162.66,332.51 L162.76,332.03 L162.87,331.54 L162.98,331.06 L163.09,330.57 L163.20,330.09 L163.32,329.60 L163.43,329.11 L163.54,328.63 L163.66,328.14 L163.77,327.65 L163.89,327.16 L164.01,326.67 L164.13,326.18 L164.25,325.69 L164.38,325.21 L164.50,324.72 L164.63,324.23 L164.76,323.74 L164.89,323.26 L165.02,322.77 L165.16,322.28 L165.30,321.80 L165.44,321.32 L165.58,320.84 L165.73,320.36 L165.88,319.88 L166.03,319.40 L166.18,318.92 L166.34,318.45 L166.50,317.98 L166.66,317.51 L166.83,317.04 L167.00,316.57 L167.17,316.11 L167.35,315.64 L167.53,315.18 L167.72,314.73 L167.91,314.27 L168.10,313.82 L168.30,313.37 L168.50,312.93 L168.70,312.48 L168.91,312.04 L169.13,311.61 L169.35,311.17 L169.57,310.74 L169.80,310.32 L170.03,309.90 L170.27,309.48 L170.51,309.06 L170.76,308.65 L171.02,308.25 L171.27,307.84 L171.54,307.45 L171.81,307.05 L172.08,306.66 L172.37,306.28 L172.65,305.90 L172.95,305.52 L173.25,305.15 L173.55,304.79 L173.86,304.43 L174.18,304.08 L174.50,303.73 L174.83,303.38 L175.17,303.05 L175.52,302.71 L175.87,302.39 L176.22,302.06 L176.58,301.75 L176.95,301.44 L177.32,301.13 L177.70,300.83 L178.09,300.53 L178.48,300.24 L178.87,299.96 L179.27,299.68 L179.67,299.40 L180.08,299.13 L180.49,298.86 L180.91,298.60 L181.33,298.34 L181.76,298.09 L182.18,297.84 L182.62,297.59 L183.05,297.35 L183.49,297.12 L183.93,296.88 L184.37,296.66 L184.82,296.43 L185.27,296.21 L185.72,295.99 L186.17,295.78 L186.63,295.57 L187.08,295.37 L187.54,295.16 L188.00,294.96 L188.46,294.77 L188.93,294.58 L189.39,294.39 L189.85,294.20 L190.32,294.02 L190.79,293.84 L191.25,293.66 L191.72,293.49 L192.19,293.32 L192.65,293.15 L193.12,292.99 L193.59,292.82 L194.06,292.67 L194.53,292.51 L195.00,292.35 L195.47,292.20 L195.94,292.06 L196.41,291.91 L196.89,291.77 L197.36,291.63 L197.83,291.49 L198.31,291.35 L198.78,291.22 L199.26,291.09 L199.73,290.96 L200.21,290.83 L200.68,290.71 L201.16,290.59 L201.64,290.47 L202.11,290.35 L202.59,290.23 L203.07,290.12 L203.55,290.01 L204.03,289.90 L204.50,289.79 L204.98,289.69 L205.46,289.58 L205.94,289.48 L206.42,289.38 L206.91,289.28 L207.39,289.19 L207.87,289.09 L208.35,289.00 L208.83,288.91 L209.31,288.82 L209.80,288.73 L210.28,288.64 L210.76,288.56 L211.25,288.47 L211.73,288.39 L212.21,288.31 L212.70,288.23 L213.18,288.15 L213.67,288.08 L214.15,288.00 L214.64,287.93 L215.12,287.85 L215.61,287.78 L216.10,287.71 L216.58,287.64 L217.07,287.57 L217.55,287.50 L218.04,287.43 L218.53,287.37 L219.01,287.30 L219.50,287.23 L219.99,287.17 L220.47,287.11 L220.96,287.04 L221.45,286.98 L221.94,286.92 L222.42,286.86 L222.91,286.80 L223.40,286.74 L223.89,286.68 L224.38,286.62 L224.86,286.56 L225.35,286.50 L225.84,286.45 L226.33,286.39 L226.82,286.33 L227.30,286.27 L227.79,286.22 L228.28,286.16 L228.77,286.10 L229.26,286.05 L229.75,285.99 L230.23,285.93 L230.72,285.88 L231.21,285.82 L231.70,285.76 L232.19,285.71 L232.68,285.65 L233.16,285.59 L233.65,285.53 L234.14,285.47 L234.63,285.42 L235.11,285.36 L235.60,285.30 L236.09,285.24 L236.58,285.18 L237.06,285.12 L237.55,285.06 L238.04,284.99 L238.53,284.93 L239.01,284.87 L239.50,284.80 L239.99,284.74" fill="none" stroke="#8B0000" stroke-width="3.5" stroke-linejoin="round" stroke-linecap="butt"/>
</g>
<g clip-path="url(#cc)">
<path d="M329.90,276.25 L330.44,276.25 L330.98,276.25 L331.52,276.26 L332.06,276.28 L332.59,276.30 L333.13,276.32 L333.66,276.35 L334.19,276.39 L334.72,276.43 L335.25,276.47 L335.77,276.52 L336.30,276.57 L336.82,276.62 L337.34,276.68 L337.86,276.75 L338.38,276.82 L338.90,276.89 L339.42,276.97 L339.93,277.05 L340.45,277.14 L340.96,277.23 L341.47,277.32 L341.98,277.42 L342.49,277.52 L343.00,277.62 L343.50,277.73 L344.01,277.85 L344.51,277.96 L345.01,278.08 L345.51,278.21 L346.01,278.34 L346.51,278.47 L347.01,278.60 L347.51,278.74 L348.00,278.88 L348.50,279.03 L348.99,279.18 L349.48,279.33 L349.97,279.49 L350.46,279.64 L350.95,279.81 L351.43,279.97 L351.92,280.14 L352.41,280.31 L352.89,280.49 L353.37,280.67 L353.85,280.85 L354.33,281.03 L354.81,281.22 L355.29,281.41 L355.77,281.60 L356.25,281.80 L356.72,281.99 L357.20,282.19 L357.67,282.40 L358.14,282.60 L358.61,282.81 L359.09,283.03 L359.56,283.24 L360.02,283.46 L360.49,283.68 L360.96,283.90 L361.43,284.12 L361.89,284.35 L362.36,284.58 L362.82,284.81 L363.28,285.04 L363.75,285.27 L364.21,285.51 L364.67,285.75 L365.13,285.99 L365.59,286.24 L366.04,286.48 L366.50,286.73 L366.96,286.98 L367.41,287.23 L367.87,287.48 L368.32,287.74 L368.78,288.00 L369.23,288.25 L369.68,288.51 L370.14,288.78 L370.59,289.04 L371.04,289.30 L371.49,289.57 L371.94,289.84 L372.39,290.11 L372.83,290.38 L373.28,290.65 L373.73,290.92 L374.18,291.20 L374.62,291.47 L375.07,291.75 L375.51,292.03 L375.96,292.31 L376.40,292.59 L376.84,292.87 L377.29,293.15 L377.73,293.44 L378.17,293.72 L378.61,294.01 L379.05,294.29 L379.49,294.58 L379.93,294.87 L380.37,295.16 L380.81,295.44 L381.25,295.73 L381.69,296.02 L382.13,296.31 L382.57,296.61 L383.00,296.90 L383.44,297.19 L383.88,297.48 L384.31,297.78 L384.75,298.07 L385.19,298.36 L385.62,298.66 L386.06,298.95 L386.49,299.25 L386.93,299.54 L387.36,299.84 L387.79,300.14 L388.22,300.43 L388.65,300.73 L389.08,301.04 L389.51,301.34 L389.93,301.64 L390.35,301.95 L390.77,302.25 L391.19,302.56 L391.61,302.88 L392.02,303.19 L392.43,303.51 L392.84,303.83 L393.24,304.15 L393.64,304.47 L394.04,304.80 L394.43,305.13 L394.82,305.46 L395.21,305.80 L395.59,306.14 L395.97,306.48 L396.35,306.83 L396.72,307.18 L397.08,307.54 L397.44,307.90 L397.80,308.26 L398.15,308.63 L398.49,309.00 L398.83,309.38 L399.17,309.76 L399.50,310.15 L399.82,310.54 L400.14,310.94 L400.45,311.35 L400.75,311.75 L401.05,312.17 L401.34,312.59 L401.63,313.01 L401.91,313.44 L402.18,313.88 L402.44,314.32 L402.70,314.77 L402.96,315.22 L403.20,315.68 L403.44,316.14 L403.68,316.60 L403.91,317.07 L404.13,317.54 L404.35,318.02 L404.56,318.50 L404.77,318.98 L404.97,319.47 L405.16,319.96 L405.35,320.45 L405.53,320.94 L405.71,321.44 L405.89,321.94 L406.06,322.44 L406.22,322.94 L406.38,323.45 L406.53,323.96 L406.68,324.47 L406.82,324.98 L406.96,325.49 L407.10,326.00 L407.23,326.51 L407.35,327.02 L407.47,327.54 L407.59,328.05 L407.70,328.56 L407.81,329.08 L407.91,329.59 L408.01,330.10 L408.11,330.62 L408.20,331.13 L408.29,331.64 L408.38,332.15 L408.46,332.67 L408.54,333.18 L408.62,333.69 L408.69,334.20 L408.76,334.71 L408.83,335.23 L408.90,335.74 L408.97,336.25 L409.03,336.76 L409.09,337.27 L409.16,337.78 L409.22,338.30 L409.27,338.81 L409.33,339.32 L409.39,339.83 L409.44,340.34 L409.50,340.86 L409.56,341.37 L409.61,341.88 L409.67,342.39 L409.72,342.91 L409.78,343.42 L409.83,343.93 L409.89,344.45 L409.95,344.96 L410.01,345.47 L410.07,345.99 L410.13,346.50 L410.19,347.01 L410.25,347.53 L410.31,348.04 L410.37,348.56 L410.44,349.07 L410.50,349.59 L410.56,350.11 L410.63,350.62 L410.69,351.14 L410.75,351.65 L410.81,352.17 L410.88,352.69 L410.94,353.21 L411.00,353.72 L411.06,354.24 L411.12,354.76 L411.18,355.28 L411.24,355.80 L411.29,356.31 L411.35,356.83 L411.40,357.35 L411.46,357.87 L411.51,358.39 L411.56,358.91 L411.61,359.43 L411.66,359.95 L411.70,360.47 L411.75,361.00 L411.79,361.52 L411.84,362.04 L411.88,362.56 L411.92,363.08 L411.96,363.60 L412.00,364.13 L412.04,364.65 L412.07,365.17 L412.11,365.69 L412.15,366.21 L412.18,366.74 L412.22,367.26 L412.25,367.78 L412.29,368.30 L412.32,368.83 L412.36,369.35 L412.39,369.87 L412.42,370.39 L412.46,370.91 L412.49,371.44 L412.52,371.96 L412.55,372.48 L412.59,373.00 L412.62,373.52 L412.66,374.04 L412.69,374.57 L412.72,375.09 L412.76,375.61 L412.79,376.13 L412.83,376.65 L412.86,377.17 L412.90,377.69 L412.94,378.21 L412.98,378.73 L413.02,379.24 L413.06,379.76 L413.10,380.28 L413.14,380.80 L413.18,381.32 L413.22,381.83 L413.27,382.35 L413.31,382.86 L413.36,383.38 L413.41,383.90 L413.46,384.41 L413.51,384.92 L413.56,385.44 L413.62,385.95 L413.67,386.46 L413.73,386.98 L413.79,387.49 L413.85,388.00 L413.91,388.51 L413.98,389.02 L414.04,389.53 L414.11,390.04 L414.18,390.54 L414.25,391.05 L414.32,391.56 L414.39,392.07 L414.46,392.58 L414.54,393.09 L414.61,393.60 L414.69,394.10 L414.76,394.61 L414.84,395.12 L414.91,395.63 L414.99,396.14 L415.07,396.65 L415.14,397.17 L415.22,397.68 L415.30,398.19 L415.37,398.71 L415.45,399.22 L415.52,399.74 L415.59,400.25 L415.67,400.77 L415.74,401.29 L415.81,401.81 L415.88,402.34 L415.95,402.86 L416.02,403.39 L416.09,403.91 L416.15,404.44 L416.22,404.97 L416.29,405.50 L416.37,406.03 L416.45,406.56 L416.53,407.09 L416.62,407.62 L416.72,408.15 L416.82,408.68 L416.94,409.20 L417.06,409.72 L417.19,410.25 L417.34,410.77 L417.50,411.28 L417.67,411.80 L417.86,412.30 L418.06,412.80 L418.28,413.29 L418.51,413.76 L418.76,414.22 L419.03,414.66 L419.31,415.08 L419.61,415.47 L419.93,415.84 L420.27,416.19 L420.62,416.52 L420.99,416.82 L421.37,417.10 L421.77,417.37 L422.18,417.61 L422.60,417.84 L423.04,418.05 L423.48,418.25 L423.94,418.43 L424.40,418.60 L424.88,418.75 L425.36,418.90 L425.86,419.03 L426.36,419.15 L426.86,419.26 L427.37,419.36 L427.89,419.46 L428.41,419.55 L428.94,419.63 L429.46,419.71 L430.00,419.78 L430.53,419.85 L431.06,419.92 L431.59,419.99 L432.13,420.05 L432.66,420.12 L433.19,420.19 L433.72,420.25 L434.25,420.32 L434.78,420.38 L435.31,420.45 L435.84,420.52 L436.36,420.58 L436.89,420.65 L437.42,420.72 L437.94,420.78 L438.47,420.85 L438.99,420.92 L439.51,420.98 L440.04,421.05 L440.56,421.12 L441.08,421.18 L441.60,421.25 L442.12,421.32 L442.64,421.38 L443.16,421.45 L443.68,421.52 L444.20,421.58 L444.72,421.65 L445.23,421.72 L445.75,421.78 L446.27,421.85 L446.78,421.92 L447.30,421.98 L447.81,422.05 L448.33,422.12 L448.84,422.18 L449.36,422.25 L449.87,422.32 L450.39,422.38 L450.90,422.45 L451.41,422.52 L451.93,422.58 L452.44,422.65 L452.95,422.72 L453.46,422.78 L453.97,422.85 L454.49,422.92 L455.00,422.98 L455.51,423.05 L456.02,423.12 L456.53,423.18 L457.04,423.25 L457.55,423.32 L458.06,423.38 L458.57,423.45 L459.08,423.52 L459.59,423.58 L460.10,423.65 L460.61,423.72 L461.12,423.78 L461.63,423.85 L462.14,423.92 L462.65,423.98 L463.16,424.05 L463.67,424.11 L464.18,424.18 L464.69,424.25 L465.20,424.31 L465.71,424.38 L466.22,424.44 L466.73,424.51 L467.24,424.58 L467.75,424.64 L468.26,424.71 L468.77,424.77 L469.29,424.84 L469.80,424.90 L470.31,424.97 L470.82,425.04 L471.33,425.10 L471.84,425.17 L472.36,425.23 L472.87,425.30 L473.38,425.36 L473.90,425.43 L474.41,425.49 L474.92,425.56 L475.44,425.62 L475.95,425.69 L476.47,425.75 L476.98,425.82 L477.50,425.88 L478.01,425.95 L478.53,426.01 L479.05,426.07 L479.56,426.14 L480.08,426.20 L480.60,426.27 L481.12,426.33 L481.64,426.40 L482.16,426.46 L482.68,426.52 L483.20,426.59 L483.72,426.65 L484.24,426.71 L484.76,426.78 L485.29,426.84 L485.81,426.90 L486.34,426.97 L486.86,427.03 L487.39,427.09 L487.91,427.16 L488.44,427.22 L488.97,427.28 L489.49,427.35 L490.02,427.41" fill="none" stroke="#0000FF" stroke-width="3.5" stroke-linejoin="round" stroke-linecap="butt"/>
<path d="M330.01,375.51 L330.38,375.51 L330.74,375.52 L331.11,375.53 L331.48,375.54 L331.84,375.54 L332.21,375.55 L332.58,375.56 L332.94,375.57 L333.31,375.58 L333.68,375.59 L334.05,375.59 L334.41,375.60 L334.78,375.61 L335.15,375.63 L335.52,375.64 L335.89,375.65 L336.25,375.66 L336.62,375.67 L336.99,375.68 L337.36,375.70 L337.72,375.71 L338.09,375.72 L338.46,375.74 L338.83,375.75 L339.20,375.77 L339.56,375.78 L339.93,375.80 L340.30,375.82 L340.67,375.83 L341.04,375.85 L341.40,375.87 L341.77,375.89 L342.14,375.91 L342.51,375.93 L342.88,375.95 L343.24,375.97 L343.61,375.99 L343.98,376.01 L344.35,376.03 L344.72,376.06 L345.08,376.08 L345.45,376.10 L345.82,376.13 L346.19,376.15 L346.56,376.18 L346.92,376.20 L347.29,376.23 L347.66,376.26 L348.03,376.29 L348.39,376.32 L348.76,376.35 L349.13,376.38 L349.50,376.41 L349.86,376.44 L350.23,376.47 L350.60,376.50 L350.97,376.54 L351.33,376.57 L351.70,376.61 L352.07,376.64 L352.43,376.68 L352.80,376.72 L353.17,376.75 L353.53,376.79 L353.90,376.83 L354.27,376.87 L354.63,376.91 L355.00,376.96 L355.36,377.00 L355.73,377.04 L356.10,377.09 L356.46,377.13 L356.83,377.18 L357.19,377.22 L357.56,377.27 L357.92,377.32 L358.29,377.37 L358.65,377.42 L359.02,377.47 L359.38,377.52 L359.75,377.57 L360.11,377.63 L360.47,377.68 L360.84,377.73 L361.20,377.79 L361.57,377.85 L361.93,377.91 L362.29,377.96 L362.66,378.02 L363.02,378.09 L363.38,378.15 L363.75,378.21 L364.11,378.27 L364.47,378.34 L364.83,378.40 L365.19,378.47 L365.56,378.54 L365.92,378.61 L366.28,378.68 L366.64,378.75 L367.00,378.82 L367.36,378.89 L367.72,378.96 L368.08,379.04 L368.44,379.11 L368.80,379.19 L369.16,379.27 L369.52,379.35 L369.88,379.43 L370.24,379.51 L370.60,379.59 L370.96,379.68 L371.31,379.76 L371.67,379.85 L372.03,379.93 L372.39,380.02 L372.74,380.11 L373.10,380.20 L373.46,380.29 L373.82,380.38 L374.17,380.48 L374.53,380.57 L374.88,380.67 L375.24,380.76 L375.59,380.86 L375.95,380.96 L376.30,381.06 L376.66,381.17 L377.01,381.27 L377.37,381.37 L377.72,381.48 L378.07,381.59 L378.42,381.70 L378.78,381.80 L379.13,381.92 L379.48,382.03 L379.83,382.14 L380.18,382.26 L380.53,382.37 L380.89,382.49 L381.24,382.61 L381.59,382.73 L381.94,382.85 L382.28,382.97 L382.63,383.10 L382.98,383.22 L383.33,383.35 L383.68,383.48 L384.03,383.61 L384.37,383.74 L384.72,383.87 L385.07,384.01 L385.41,384.14 L385.76,384.28 L386.10,384.42 L386.45,384.56 L386.79,384.70 L387.14,384.84 L387.48,384.98 L387.83,385.13 L388.17,385.28 L388.51,385.42 L388.86,385.57 L389.20,385.73 L389.54,385.88 L389.88,386.03 L390.22,386.19 L390.56,386.35 L390.89,386.51 L391.23,386.67 L391.56,386.84 L391.90,387.00 L392.23,387.17 L392.56,387.34 L392.89,387.52 L393.21,387.69 L393.54,387.87 L393.86,388.05 L394.18,388.24 L394.50,388.42 L394.81,388.61 L395.13,388.80 L395.44,388.99 L395.75,389.19 L396.05,389.39 L396.36,389.59 L396.66,389.80 L396.95,390.01 L397.25,390.22 L397.54,390.43 L397.83,390.65 L398.11,390.87 L398.39,391.10 L398.67,391.33 L398.94,391.56 L399.21,391.79 L399.48,392.03 L399.74,392.27 L400.00,392.52 L400.25,392.77 L400.50,393.02 L400.74,393.28 L400.99,393.54 L401.22,393.81 L401.45,394.08 L401.68,394.35 L401.90,394.63 L402.12,394.91 L402.33,395.20 L402.54,395.49 L402.74,395.78 L402.94,396.08 L403.13,396.39 L403.32,396.69 L403.50,397.00 L403.68,397.32 L403.85,397.63 L404.02,397.95 L404.19,398.28 L404.35,398.61 L404.51,398.94 L404.67,399.27 L404.82,399.61 L404.96,399.94 L405.11,400.29 L405.25,400.63 L405.39,400.98 L405.52,401.32 L405.65,401.68 L405.78,402.03 L405.91,402.38 L406.03,402.74 L406.15,403.10 L406.27,403.46 L406.39,403.82 L406.50,404.18 L406.61,404.55 L406.72,404.91 L406.83,405.28 L406.93,405.64 L407.04,406.01 L407.14,406.38 L407.24,406.75 L407.34,407.12 L407.44,407.49 L407.53,407.86 L407.63,408.23 L407.72,408.60 L407.82,408.97 L407.91,409.34 L408.00,409.71 L408.10,410.08 L408.19,410.45 L408.28,410.82 L408.37,411.19 L408.46,411.56 L408.55,411.92 L408.64,412.29 L408.74,412.65 L408.83,413.01 L408.93,413.37 L409.02,413.73 L409.12,414.09 L409.22,414.44 L409.33,414.80 L409.43,415.15 L409.55,415.50 L409.66,415.84 L409.78,416.18 L409.90,416.52 L410.03,416.86 L410.16,417.19 L410.30,417.52 L410.44,417.85 L410.59,418.17 L410.75,418.49 L410.91,418.80 L411.08,419.11 L411.26,419.42 L411.44,419.72 L411.63,420.01 L411.83,420.31 L412.04,420.59 L412.26,420.87 L412.49,421.15 L412.72,421.42 L412.97,421.68 L413.23,421.94 L413.49,422.19 L413.77,422.44 L414.05,422.67 L414.34,422.90 L414.64,423.11 L414.95,423.31 L415.26,423.49 L415.58,423.67 L415.91,423.82 L416.24,423.96 L416.58,424.08 L416.92,424.19 L417.27,424.28 L417.62,424.35 L417.98,424.42 L418.34,424.47 L418.71,424.51 L419.07,424.54 L419.44,424.56 L419.81,424.57 L420.19,424.58 L420.57,424.57 L420.94,424.56 L421.32,424.55 L421.70,424.53 L422.09,424.51 L422.47,424.49 L422.85,424.47 L423.23,424.44 L423.61,424.42 L423.99,424.39 L424.37,424.37 L424.75,424.36 L425.12,424.34 L425.50,424.33 L425.87,424.32 L426.24,424.31 L426.62,424.30 L426.99,424.29 L427.36,424.29 L427.73,424.29 L428.09,424.29 L428.46,424.29 L428.83,424.29 L429.20,424.29 L429.56,424.30 L429.93,424.30 L430.30,424.31 L430.66,424.32 L431.03,424.33 L431.39,424.34 L431.76,424.35 L432.12,424.36 L432.49,424.38 L432.85,424.39 L433.22,424.41 L433.59,424.42 L433.95,424.44 L434.32,424.45 L434.68,424.47 L435.05,424.49 L435.41,424.50 L435.78,424.52 L436.14,424.54 L436.51,424.56 L436.88,424.58 L437.24,424.60 L437.61,424.62 L437.97,424.65 L438.34,424.67 L438.71,424.69 L439.07,424.72 L439.44,424.74 L439.80,424.77 L440.17,424.79 L440.53,424.82 L440.90,424.84 L441.27,424.87 L441.63,424.90 L442.00,424.93 L442.36,424.95 L442.73,424.98 L443.10,425.01 L443.46,425.04 L443.83,425.07 L444.20,425.10 L444.56,425.14 L444.93,425.17 L445.29,425.20 L445.66,425.23 L446.03,425.27 L446.39,425.30 L446.76,425.33 L447.13,425.37 L447.49,425.40 L447.86,425.44 L448.22,425.47 L448.59,425.51 L448.96,425.54 L449.32,425.58 L449.69,425.62 L450.06,425.65 L450.42,425.69 L450.79,425.73 L451.16,425.77 L451.52,425.80 L451.89,425.84 L452.26,425.88 L452.62,425.92 L452.99,425.96 L453.36,426.00 L453.72,426.04 L454.09,426.08 L454.46,426.12 L454.82,426.16 L455.19,426.20 L455.55,426.24 L455.92,426.28 L456.29,426.32 L456.65,426.37 L457.02,426.41 L457.39,426.45 L457.75,426.49 L458.12,426.53 L458.49,426.58 L458.85,426.62 L459.22,426.66 L459.59,426.71 L459.95,426.75 L460.32,426.79 L460.69,426.83 L461.05,426.88 L461.42,426.92 L461.79,426.97 L462.15,427.01 L462.52,427.05 L462.89,427.10 L463.25,427.14 L463.62,427.18 L463.99,427.23 L464.35,427.27 L464.72,427.32 L465.09,427.36 L465.45,427.40 L465.82,427.45 L466.19,427.49 L466.55,427.54 L466.92,427.58 L467.29,427.63 L467.65,427.67 L468.02,427.71 L468.39,427.76 L468.75,427.80 L469.12,427.84 L469.49,427.89 L469.85,427.93 L470.22,427.98 L470.59,428.02 L470.95,428.06 L471.32,428.11 L471.69,428.15 L472.05,428.19 L472.42,428.24 L472.79,428.28 L473.15,428.32 L473.52,428.36 L473.88,428.41 L474.25,428.45 L474.62,428.49 L474.98,428.53 L475.35,428.57 L475.72,428.62 L476.08,428.66 L476.45,428.70 L476.82,428.74 L477.18,428.78 L477.55,428.82 L477.91,428.86 L478.28,428.90 L478.65,428.94 L479.01,428.98 L479.38,429.02 L479.75,429.06 L480.11,429.10 L480.48,429.14 L480.84,429.17 L481.21,429.21 L481.58,429.25 L481.94,429.29 L482.31,429.32 L482.67,429.36 L483.04,429.40 L483.41,429.43 L483.77,429.47 L484.14,429.50 L484.50,429.54 L484.87,429.57 L485.23,429.60 L485.60,429.64 L485.97,429.67 L486.33,429.70 L486.70,429.74 L487.06,429.77 L487.43,429.80 L487.79,429.83 L488.16,429.86 L488.53,429.89 L488.89,429.92 L489.26,429.95 L489.62,429.98 L489.99,430.01" fill="none" stroke="#008B00" stroke-width="3.5" stroke-linejoin="round" stroke-linecap="butt"/>
<path d="M330.00,432.96 L330.32,432.97 L330.65,432.97 L330.97,432.98 L331.29,432.99 L331.61,433.00 L331.94,433.01 L332.26,433.01 L332.58,433.02 L332.90,433.03 L333.23,433.03 L333.55,433.04 L333.87,433.05 L334.20,433.05 L334.52,433.06 L334.84,433.06 L335.16,433.07 L335.49,433.07 L335.81,433.07 L336.13,433.08 L336.45,433.08 L336.78,433.08 L337.10,433.09 L337.42,433.09 L337.75,433.09 L338.07,433.09 L338.39,433.09 L338.71,433.10 L339.04,433.10 L339.36,433.10 L339.68,433.10 L340.01,433.10 L340.33,433.10 L340.65,433.10 L340.97,433.10 L341.30,433.10 L341.62,433.10 L341.94,433.10 L342.26,433.10 L342.59,433.09 L342.91,433.09 L343.23,433.09 L343.56,433.09 L343.88,433.09 L344.20,433.09 L344.52,433.08 L344.85,433.08 L345.17,433.08 L345.49,433.08 L345.82,433.07 L346.14,433.07 L346.46,433.07 L346.78,433.06 L347.11,433.06 L347.43,433.06 L347.75,433.05 L348.07,433.05 L348.40,433.05 L348.72,433.04 L349.04,433.04 L349.37,433.03 L349.69,433.03 L350.01,433.03 L350.33,433.02 L350.66,433.02 L350.98,433.01 L351.30,433.01 L351.63,433.00 L351.95,433.00 L352.27,433.00 L352.59,432.99 L352.92,432.99 L353.24,432.98 L353.56,432.98 L353.88,432.97 L354.21,432.97 L354.53,432.96 L354.85,432.96 L355.18,432.95 L355.50,432.95 L355.82,432.94 L356.14,432.94 L356.47,432.93 L356.79,432.93 L357.11,432.92 L357.43,432.92 L357.76,432.92 L358.08,432.91 L358.40,432.91 L358.73,432.90 L359.05,432.90 L359.37,432.89 L359.69,432.89 L360.02,432.88 L360.34,432.88 L360.66,432.88 L360.98,432.87 L361.31,432.87 L361.63,432.86 L361.95,432.86 L362.28,432.86 L362.60,432.85 L362.92,432.85 L363.24,432.85 L363.57,432.84 L363.89,432.84 L364.21,432.84 L364.53,432.84 L364.86,432.83 L365.18,432.83 L365.50,432.83 L365.83,432.83 L366.15,432.83 L366.47,432.82 L366.79,432.82 L367.12,432.82 L367.44,432.82 L367.76,432.82 L368.08,432.82 L368.41,432.82 L368.73,432.82 L369.05,432.82 L369.37,432.82 L369.70,432.82 L370.02,432.82 L370.34,432.82 L370.67,432.82 L370.99,432.82 L371.31,432.82 L371.63,432.82 L371.96,432.83 L372.28,432.83 L372.60,432.83 L372.92,432.83 L373.25,432.84 L373.57,432.84 L373.89,432.84 L374.21,432.85 L374.54,432.85 L374.86,432.86 L375.18,432.86 L375.51,432.87 L375.83,432.87 L376.15,432.88 L376.47,432.88 L376.80,432.89 L377.12,432.90 L377.44,432.90 L377.76,432.91 L378.09,432.92 L378.41,432.93 L378.73,432.93 L379.05,432.94 L379.38,432.95 L379.70,432.96 L380.02,432.97 L380.34,432.98 L380.67,432.99 L380.99,433.00 L381.31,433.01 L381.63,433.03 L381.96,433.04 L382.28,433.05 L382.60,433.06 L382.92,433.08 L383.25,433.09 L383.57,433.11 L383.89,433.12 L384.21,433.14 L384.54,433.15 L384.86,433.17 L385.18,433.18 L385.50,433.20 L385.83,433.22 L386.15,433.24 L386.47,433.25 L386.79,433.27 L387.12,433.29 L387.44,433.31 L387.76,433.33 L388.08,433.35 L388.41,433.37 L388.73,433.40 L389.05,433.42 L389.37,433.44 L389.70,433.47 L390.02,433.49 L390.34,433.51 L390.66,433.54 L390.99,433.56 L391.31,433.59 L391.63,433.62 L391.95,433.64 L392.28,433.67 L392.60,433.70 L392.92,433.73 L393.24,433.76 L393.57,433.79 L393.89,433.82 L394.21,433.85 L394.53,433.88 L394.86,433.91 L395.18,433.95 L395.50,433.98 L395.82,434.01 L396.14,434.05 L396.47,434.08 L396.79,434.12 L397.11,434.15 L397.43,434.19 L397.76,434.23 L398.08,434.27 L398.40,434.30 L398.72,434.34 L399.04,434.38 L399.37,434.42 L399.69,434.46 L400.01,434.50 L400.33,434.54 L400.65,434.58 L400.97,434.62 L401.29,434.66 L401.62,434.70 L401.94,434.74 L402.26,434.79 L402.58,434.83 L402.90,434.87 L403.22,434.91 L403.54,434.95 L403.86,434.99 L404.18,435.03 L404.50,435.07 L404.82,435.10 L405.14,435.13 L405.46,435.16 L405.77,435.19 L406.09,435.22 L406.41,435.24 L406.73,435.25 L407.04,435.27 L407.36,435.28 L407.67,435.28 L407.99,435.28 L408.30,435.28 L408.62,435.27 L408.93,435.25 L409.24,435.23 L409.55,435.20 L409.86,435.17 L410.17,435.13 L410.48,435.08 L410.79,435.03 L411.10,434.98 L411.41,434.91 L411.72,434.85 L412.03,434.78 L412.33,434.70 L412.64,434.62 L412.95,434.54 L413.25,434.45 L413.56,434.36 L413.86,434.26 L414.17,434.17 L414.47,434.07 L414.78,433.97 L415.08,433.87 L415.39,433.76 L415.69,433.65 L416.00,433.55 L416.30,433.44 L416.61,433.33 L416.91,433.22 L417.22,433.11 L417.52,433.00 L417.83,432.89 L418.14,432.79 L418.44,432.68 L418.75,432.57 L419.06,432.47 L419.37,432.36 L419.67,432.26 L419.98,432.16 L420.29,432.07 L420.60,431.97 L420.91,431.88 L421.22,431.79 L421.54,431.71 L421.85,431.62 L422.16,431.54 L422.47,431.46 L422.79,431.39 L423.10,431.31 L423.42,431.24 L423.73,431.17 L424.05,431.10 L424.36,431.04 L424.68,430.97 L425.00,430.91 L425.31,430.85 L425.63,430.80 L425.95,430.74 L426.27,430.69 L426.58,430.64 L426.90,430.59 L427.22,430.54 L427.54,430.50 L427.86,430.46 L428.18,430.42 L428.50,430.38 L428.82,430.34 L429.14,430.31 L429.46,430.27 L429.78,430.24 L430.10,430.21 L430.43,430.19 L430.75,430.16 L431.07,430.14 L431.39,430.12 L431.71,430.09 L432.04,430.08 L432.36,430.06 L432.68,430.04 L433.00,430.03 L433.32,430.02 L433.65,430.01 L433.97,430.00 L434.29,429.99 L434.62,429.98 L434.94,429.98 L435.26,429.97 L435.58,429.97 L435.91,429.97 L436.23,429.97 L436.55,429.98 L436.88,429.98 L437.20,429.98 L437.52,429.99 L437.84,430.00 L438.17,430.01 L438.49,430.02 L438.81,430.03 L439.13,430.04 L439.46,430.05 L439.78,430.06 L440.10,430.08 L440.42,430.09 L440.75,430.11 L441.07,430.13 L441.39,430.15 L441.71,430.17 L442.04,430.19 L442.36,430.21 L442.68,430.23 L443.00,430.25 L443.33,430.27 L443.65,430.30 L443.97,430.32 L444.29,430.35 L444.61,430.37 L444.94,430.40 L445.26,430.43 L445.58,430.45 L445.90,430.48 L446.23,430.51 L446.55,430.53 L446.87,430.56 L447.19,430.59 L447.51,430.62 L447.84,430.65 L448.16,430.68 L448.48,430.71 L448.80,430.74 L449.12,430.77 L449.45,430.80 L449.77,430.83 L450.09,430.86 L450.41,430.89 L450.73,430.92 L451.06,430.95 L451.38,430.98 L451.70,431.01 L452.02,431.03 L452.34,431.06 L452.67,431.09 L452.99,431.12 L453.31,431.15 L453.63,431.18 L453.95,431.21 L454.27,431.23 L454.60,431.26 L454.92,431.29 L455.24,431.32 L455.56,431.34 L455.88,431.37 L456.21,431.40 L456.53,431.42 L456.85,431.45 L457.17,431.47 L457.49,431.50 L457.81,431.53 L458.14,431.55 L458.46,431.58 L458.78,431.60 L459.10,431.63 L459.42,431.65 L459.74,431.68 L460.07,431.70 L460.39,431.73 L460.71,431.75 L461.03,431.78 L461.35,431.80 L461.67,431.82 L462.00,431.85 L462.32,431.87 L462.64,431.90 L462.96,431.92 L463.28,431.94 L463.61,431.97 L463.93,431.99 L464.25,432.01 L464.57,432.04 L464.89,432.06 L465.21,432.08 L465.54,432.11 L465.86,432.13 L466.18,432.15 L466.50,432.17 L466.82,432.20 L467.14,432.22 L467.47,432.24 L467.79,432.26 L468.11,432.28 L468.43,432.31 L468.75,432.33 L469.07,432.35 L469.40,432.37 L469.72,432.40 L470.04,432.42 L470.36,432.44 L470.68,432.46 L471.00,432.48 L471.33,432.50 L471.65,432.53 L471.97,432.55 L472.29,432.57 L472.61,432.59 L472.94,432.61 L473.26,432.63 L473.58,432.65 L473.90,432.68 L474.22,432.70 L474.54,432.72 L474.87,432.74 L475.19,432.76 L475.51,432.78 L475.83,432.80 L476.15,432.83 L476.47,432.85 L476.80,432.87 L477.12,432.89 L477.44,432.91 L477.76,432.93 L478.08,432.96 L478.41,432.98 L478.73,433.00 L479.05,433.02 L479.37,433.04 L479.69,433.06 L480.02,433.09 L480.34,433.11 L480.66,433.13 L480.98,433.15 L481.30,433.17 L481.63,433.19 L481.95,433.22 L482.27,433.24 L482.59,433.26 L482.91,433.28 L483.24,433.31 L483.56,433.33 L483.88,433.35 L484.20,433.37 L484.52,433.40 L484.85,433.42 L485.17,433.44 L485.49,433.46 L485.81,433.49 L486.14,433.51 L486.46,433.53 L486.78,433.56 L487.10,433.58 L487.42,433.60 L487.75,433.63 L488.07,433.65 L488.39,433.68 L488.71,433.70 L489.04,433.72 L489.36,433.75 L489.68,433.77 L490.00,433.80" fill="none" stroke="#8B0000" stroke-width="3.5" stroke-linejoin="round" stroke-linecap="butt"/>
</g>
<line x1="80.0" y1="179.5" x2="80.0" y2="188.60000000000002" stroke="#000" stroke-width="1.25" stroke-linecap="butt"/>
<line x1="148.33333333333334" y1="179.5" x2="148.33333333333334" y2="188.60000000000002" stroke="#000" stroke-width="1.25" stroke-linecap="butt"/>
<line x1="216.66666666666669" y1="179.5" x2="216.66666666666669" y2="188.60000000000002" stroke="#000" stroke-width="1.25" stroke-linecap="butt"/>
<line x1="285.0" y1="179.5" x2="285.0" y2="188.60000000000002" stroke="#000" stroke-width="1.25" stroke-linecap="butt"/>
<line x1="353.33333333333337" y1="179.5" x2="353.33333333333337" y2="188.60000000000002" stroke="#000" stroke-width="1.25" stroke-linecap="butt"/>
<line x1="421.6666666666667" y1="179.5" x2="421.6666666666667" y2="188.60000000000002" stroke="#000" stroke-width="1.25" stroke-linecap="butt"/>
<line x1="490.0" y1="179.5" x2="490.0" y2="188.60000000000002" stroke="#000" stroke-width="1.25" stroke-linecap="butt"/>
<text x="80.0" y="210.6" font-size="13.8" text-anchor="middle">0.0</text>
<text x="148.33333333333334" y="210.6" font-size="13.8" text-anchor="middle">0.1</text>
<text x="216.66666666666669" y="210.6" font-size="13.8" text-anchor="middle">0.2</text>
<text x="285.0" y="210.6" font-size="13.8" text-anchor="middle">0.3</text>
<text x="353.33333333333337" y="210.6" font-size="13.8" text-anchor="middle">0.4</text>
<text x="421.6666666666667" y="210.6" font-size="13.8" text-anchor="middle">0.5</text>
<text x="490.0" y="210.6" font-size="13.8" text-anchor="middle">0.6</text>
<line x1="71.2" y1="173.6" x2="80" y2="173.6" stroke="#000" stroke-width="1.25" stroke-linecap="butt"/>
<text x="60.4" y="173.6" font-size="13.8" text-anchor="middle" transform="rotate(-90 60.4 173.6)">0</text>
<line x1="71.2" y1="130.13333333333333" x2="80" y2="130.13333333333333" stroke="#000" stroke-width="1.25" stroke-linecap="butt"/>
<text x="60.4" y="130.13333333333333" font-size="13.8" text-anchor="middle" transform="rotate(-90 60.4 130.13333333333333)">2000</text>
<line x1="71.2" y1="86.66666666666666" x2="80" y2="86.66666666666666" stroke="#000" stroke-width="1.25" stroke-linecap="butt"/>
<text x="60.4" y="86.66666666666666" font-size="13.8" text-anchor="middle" transform="rotate(-90 60.4 86.66666666666666)">4000</text>
<line x1="71.2" y1="43.19999999999999" x2="80" y2="43.19999999999999" stroke="#000" stroke-width="1.25" stroke-linecap="butt"/>
<text x="60.4" y="43.19999999999999" font-size="13.8" text-anchor="middle" transform="rotate(-90 60.4 43.19999999999999)">6000</text>
<rect x="80" y="9.6" width="410" height="169.9" fill="none" stroke="#000" stroke-width="1.25"/>
<text x="285.1" y="234.5" font-size="13.8" text-anchor="middle">T</text>
<line x1="80" y1="179.5" x2="490" y2="179.5" stroke="#000" stroke-width="1.25" stroke-linecap="butt"/>
<line x1="80" y1="173.6" x2="80" y2="43.19999999999999" stroke="#000" stroke-width="1.25" stroke-linecap="butt"/>
<path d="M26.2,97.5 C25.1,97.2 24.7,96.1 25.5,95.4 C27,94.6 29.5,94.0 31,93.6 C32.5,93.3 34.3,93.3 34.9,92.4 C35.3,91.7 34.6,91.2 33.7,91.3" fill="none" stroke="#000" stroke-width="1.0" stroke-linecap="round"/>
<path d="M28.8,94.3 L34.8,97.4" fill="none" stroke="#000" stroke-width="1.4" stroke-linecap="round"/>
<line x1="96" y1="31.1" x2="128.8" y2="31.1" stroke="#0000FF" stroke-width="5.2" stroke-linecap="round"/>
<text x="144.6" y="37.5" font-size="17.9" dx="0.25 1.0 0 0 -0.3 -0.4 1.7 -0.4 -0.3 -0.9">F=log(1.4)</text>
<line x1="96" y1="52.7" x2="128.8" y2="52.7" stroke="#008B00" stroke-width="5.2" stroke-linecap="round"/>
<text x="144.6" y="59.1" font-size="17.9" dx="0.25 1.0 0">F=0</text>
<line x1="96" y1="74.30000000000001" x2="128.8" y2="74.30000000000001" stroke="#8B0000" stroke-width="5.2" stroke-linecap="round"/>
<text y="80.70000000000002" font-size="17.9"><tspan x="144.6" dx="0.25 1.0">F=</tspan><tspan x="177.8" dx="0 0 -0.3 -0.4 1.7 -0.4 -0.3 -0.9">log(1.4)</tspan></text>
<rect x="166.9" y="73.2" width="10.1" height="1.45" fill="#000"/>
<text x="460.6" y="104.8" font-size="27.6" text-anchor="middle">(a)</text>
<line x1="80.0" y1="439.8" x2="80.0" y2="448.70000000000005" stroke="#000" stroke-width="1.25" stroke-linecap="butt"/>
<line x1="106.66666666666667" y1="439.8" x2="106.66666666666667" y2="448.70000000000005" stroke="#000" stroke-width="1.25" stroke-linecap="butt"/>
<line x1="133.33333333333334" y1="439.8" x2="133.33333333333334" y2="448.70000000000005" stroke="#000" stroke-width="1.25" stroke-linecap="butt"/>
<line x1="160.0" y1="439.8" x2="160.0" y2="448.70000000000005" stroke="#000" stroke-width="1.25" stroke-linecap="butt"/>
<line x1="186.66666666666669" y1="439.8" x2="186.66666666666669" y2="448.70000000000005" stroke="#000" stroke-width="1.25" stroke-linecap="butt"/>
<line x1="213.33333333333334" y1="439.8" x2="213.33333333333334" y2="448.70000000000005" stroke="#000" stroke-width="1.25" stroke-linecap="butt"/>
<line x1="240.0" y1="439.8" x2="240.0" y2="448.70000000000005" stroke="#000" stroke-width="1.25" stroke-linecap="butt"/>
<text x="80.0" y="470.6" font-size="13.8" text-anchor="middle">0.0</text>
<text x="133.33333333333334" y="470.6" font-size="13.8" text-anchor="middle">0.2</text>
<text x="186.66666666666669" y="470.6" font-size="13.8" text-anchor="middle">0.4</text>
<text x="240.0" y="470.6" font-size="13.8" text-anchor="middle">0.6</text>
<line x1="71.2" y1="433.2" x2="80" y2="433.2" stroke="#000" stroke-width="1.25" stroke-linecap="butt"/>
<text x="60.4" y="433.2" font-size="13.8" text-anchor="middle" transform="rotate(-90 60.4 433.2)">0</text>
<line x1="71.2" y1="391.8" x2="80" y2="391.8" stroke="#000" stroke-width="1.25" stroke-linecap="butt"/>
<text x="60.4" y="391.8" font-size="13.8" text-anchor="middle" transform="rotate(-90 60.4 391.8)">100</text>
<line x1="71.2" y1="350.4" x2="80" y2="350.4" stroke="#000" stroke-width="1.25" stroke-linecap="butt"/>
<text x="60.4" y="350.4" font-size="13.8" text-anchor="middle" transform="rotate(-90 60.4 350.4)">200</text>
<line x1="71.2" y1="309.0" x2="80" y2="309.0" stroke="#000" stroke-width="1.25" stroke-linecap="butt"/>
<text x="60.4" y="309.0" font-size="13.8" text-anchor="middle" transform="rotate(-90 60.4 309.0)">300</text>
<rect x="80" y="269.65" width="160" height="170.15" fill="none" stroke="#000" stroke-width="1.25"/>
<text x="160.1" y="494.5" font-size="13.8" text-anchor="middle">T</text>
<line x1="80" y1="439.8" x2="240" y2="439.8" stroke="#000" stroke-width="1.25" stroke-linecap="butt"/>
<line x1="80" y1="433.2" x2="80" y2="309.0" stroke="#000" stroke-width="1.25" stroke-linecap="butt"/>
<text x="36" y="354.8" font-size="13.8" text-anchor="middle" transform="rotate(-90 36 354.8)">&lt;w&gt;</text>
<text x="210.5" y="364.8" font-size="27.6" text-anchor="middle">(b)</text>
<line x1="330.0" y1="439.8" x2="330.0" y2="448.70000000000005" stroke="#000" stroke-width="1.25" stroke-linecap="butt"/>
<line x1="356.6666666666667" y1="439.8" x2="356.6666666666667" y2="448.70000000000005" stroke="#000" stroke-width="1.25" stroke-linecap="butt"/>
<line x1="383.3333333333333" y1="439.8" x2="383.3333333333333" y2="448.70000000000005" stroke="#000" stroke-width="1.25" stroke-linecap="butt"/>
<line x1="410.0" y1="439.8" x2="410.0" y2="448.70000000000005" stroke="#000" stroke-width="1.25" stroke-linecap="butt"/>
<line x1="436.6666666666667" y1="439.8" x2="436.6666666666667" y2="448.70000000000005" stroke="#000" stroke-width="1.25" stroke-linecap="butt"/>
<line x1="463.33333333333337" y1="439.8" x2="463.33333333333337" y2="448.70000000000005" stroke="#000" stroke-width="1.25" stroke-linecap="butt"/>
<line x1="490.0" y1="439.8" x2="490.0" y2="448.70000000000005" stroke="#000" stroke-width="1.25" stroke-linecap="butt"/>
<text x="330.0" y="470.6" font-size="13.8" text-anchor="middle">0.0</text>
<text x="383.3333333333333" y="470.6" font-size="13.8" text-anchor="middle">0.2</text>
<text x="436.6666666666667" y="470.6" font-size="13.8" text-anchor="middle">0.4</text>
<text x="490.0" y="470.6" font-size="13.8" text-anchor="middle">0.6</text>
<line x1="321.2" y1="424.3" x2="330" y2="424.3" stroke="#000" stroke-width="1.25" stroke-linecap="butt"/>
<text x="310.4" y="424.3" font-size="13.8" text-anchor="middle" transform="rotate(-90 310.4 424.3)">5</text>
<line x1="321.2" y1="384.765" x2="330" y2="384.765" stroke="#000" stroke-width="1.25" stroke-linecap="butt"/>
<text x="310.4" y="384.765" font-size="13.8" text-anchor="middle" transform="rotate(-90 310.4 384.765)">10</text>
<line x1="321.2" y1="345.23" x2="330" y2="345.23" stroke="#000" stroke-width="1.25" stroke-linecap="butt"/>
<text x="310.4" y="345.23" font-size="13.8" text-anchor="middle" transform="rotate(-90 310.4 345.23)">15</text>
<line x1="321.2" y1="305.695" x2="330" y2="305.695" stroke="#000" stroke-width="1.25" stroke-linecap="butt"/>
<text x="310.4" y="305.695" font-size="13.8" text-anchor="middle" transform="rotate(-90 310.4 305.695)">20</text>
<rect x="330" y="269.65" width="160" height="170.15" fill="none" stroke="#000" stroke-width="1.25"/>
<text x="410.1" y="494.5" font-size="13.8" text-anchor="middle">T</text>
<line x1="330" y1="439.8" x2="490" y2="439.8" stroke="#000" stroke-width="1.25" stroke-linecap="butt"/>
<line x1="330" y1="424.3" x2="330" y2="305.695" stroke="#000" stroke-width="1.25" stroke-linecap="butt"/>
<text x="286" y="354.8" font-size="13.8" text-anchor="middle" transform="rotate(-90 286 354.8)">&lt;h&gt;</text>
<text x="461.1" y="364.8" font-size="27.6" text-anchor="middle">(c)</text>
</svg>
</body></html>
